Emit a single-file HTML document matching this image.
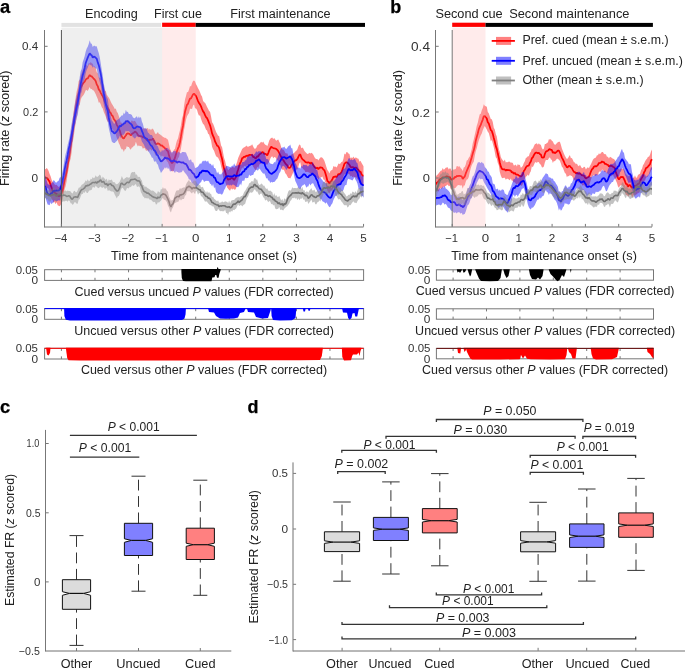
<!DOCTYPE html>
<html><head><meta charset="utf-8"><style>
html,body{margin:0;padding:0;background:#fff;width:685px;height:668px;overflow:hidden}
svg{display:block;will-change:transform}
text{font-family:"Liberation Sans", sans-serif}
</style></head><body>
<svg width="685" height="668" viewBox="0 0 685 668" font-family='"Liberation Sans", sans-serif'>
<rect width="685" height="668" fill="#fff"/>
<rect x="61.42" y="22.90" width="99.71" height="4.00" fill="#e2e2e2"/>
<rect x="162.13" y="22.70" width="33.57" height="4.20" fill="#ff0000"/>
<rect x="195.70" y="22.90" width="169.30" height="4.00" fill="#000"/>
<polygon points="44.60,168.86 45.60,169.18 46.61,167.95 47.61,169.12 48.61,171.12 49.61,174.01 50.62,176.36 51.62,179.63 52.62,181.72 53.63,182.68 54.63,184.53 55.63,184.89 56.63,184.71 57.64,186.09 58.64,187.06 59.64,186.30 60.65,185.69 61.65,183.28 62.65,181.11 63.65,176.57 64.66,171.64 65.66,168.40 66.66,163.58 67.67,157.85 68.67,152.58 69.67,144.46 70.67,134.92 71.68,126.93 72.68,119.22 73.68,111.24 74.68,104.46 75.69,97.59 76.69,91.34 77.69,87.51 78.70,81.01 79.70,79.68 80.70,75.99 81.70,73.02 82.71,70.32 83.71,68.75 84.71,69.53 85.72,66.14 86.72,64.64 87.72,66.28 88.72,62.95 89.73,63.45 90.73,62.12 91.73,63.25 92.74,63.83 93.74,66.67 94.74,66.36 95.74,68.40 96.75,72.16 97.75,73.19 98.75,76.82 99.76,77.94 100.76,78.18 101.76,80.17 102.76,82.91 103.77,85.97 104.77,90.53 105.77,90.99 106.78,94.58 107.78,96.16 108.78,97.43 109.78,99.13 110.79,101.70 111.79,103.83 112.79,105.37 113.80,106.90 114.80,108.94 115.80,108.47 116.80,111.71 117.81,112.94 118.81,115.96 119.81,119.44 120.82,122.96 121.82,122.61 122.82,124.90 123.82,123.97 124.83,123.01 125.83,121.91 126.83,120.21 127.83,119.85 128.84,121.97 129.84,122.69 130.84,121.80 131.85,120.18 132.85,121.13 133.85,121.25 134.85,120.76 135.86,122.28 136.86,124.23 137.86,125.15 138.87,126.46 139.87,126.94 140.87,126.16 141.87,128.48 142.88,128.81 143.88,128.21 144.88,128.38 145.89,128.99 146.89,128.39 147.89,127.91 148.89,129.88 149.90,128.43 150.90,130.32 151.90,128.84 152.91,128.69 153.91,130.56 154.91,132.98 155.91,134.33 156.92,133.30 157.92,131.96 158.92,134.08 159.93,134.29 160.93,135.35 161.93,135.83 162.93,137.05 163.94,137.30 164.94,137.99 165.94,137.82 166.95,139.16 167.95,139.58 168.95,143.96 169.95,148.65 170.96,150.83 171.96,153.93 172.96,151.81 173.97,149.75 174.97,148.86 175.97,144.07 176.97,140.46 177.98,138.49 178.98,133.96 179.98,130.22 180.98,124.74 181.99,118.35 182.99,115.14 183.99,105.99 185.00,99.57 186.00,95.88 187.00,91.91 188.00,92.37 189.01,89.48 190.01,85.90 191.01,86.55 192.02,83.32 193.02,80.98 194.02,80.47 195.02,81.39 196.03,84.22 197.03,85.96 198.03,88.24 199.04,90.02 200.04,92.26 201.04,95.11 202.04,96.60 203.05,100.74 204.05,102.36 205.05,102.78 206.06,104.84 207.06,107.01 208.06,108.79 209.06,111.00 210.07,111.87 211.07,116.47 212.07,122.31 213.08,123.84 214.08,126.26 215.08,129.27 216.08,132.10 217.09,133.85 218.09,135.83 219.09,136.00 220.10,140.79 221.10,145.40 222.10,147.28 223.10,152.84 224.11,157.91 225.11,160.89 226.11,165.42 227.12,167.54 228.12,170.27 229.12,169.28 230.12,167.90 231.13,168.11 232.13,167.06 233.13,166.69 234.13,168.03 235.14,166.76 236.14,164.63 237.14,161.80 238.15,158.10 239.15,155.85 240.15,153.56 241.15,151.22 242.16,149.09 243.16,148.06 244.16,147.33 245.17,146.94 246.17,145.46 247.17,146.50 248.17,146.69 249.18,146.34 250.18,145.85 251.18,145.46 252.19,144.15 253.19,146.55 254.19,148.44 255.19,148.72 256.20,148.08 257.20,145.59 258.20,144.70 259.21,144.06 260.21,142.71 261.21,141.86 262.21,142.69 263.22,141.44 264.22,143.47 265.22,144.67 266.23,145.10 267.23,146.32 268.23,143.73 269.23,140.47 270.24,138.81 271.24,137.93 272.24,137.45 273.25,138.89 274.25,137.99 275.25,139.43 276.25,140.81 277.26,139.96 278.26,139.59 279.26,141.71 280.27,143.77 281.27,147.45 282.27,149.53 283.27,149.61 284.28,150.86 285.28,153.00 286.28,153.47 287.28,153.19 288.29,155.73 289.29,156.47 290.29,157.43 291.30,154.39 292.30,154.35 293.30,153.51 294.30,152.80 295.31,151.62 296.31,150.80 297.31,149.42 298.32,146.48 299.32,144.41 300.32,144.97 301.32,148.24 302.33,147.54 303.33,148.40 304.33,150.81 305.34,151.92 306.34,152.95 307.34,154.07 308.34,153.67 309.35,152.69 310.35,153.38 311.35,152.74 312.36,153.41 313.36,154.84 314.36,156.95 315.36,158.53 316.37,159.04 317.37,159.05 318.37,160.40 319.38,158.79 320.38,157.48 321.38,157.36 322.38,157.65 323.39,159.02 324.39,160.77 325.39,163.86 326.40,167.01 327.40,170.05 328.40,171.21 329.40,173.52 330.41,170.89 331.41,170.37 332.41,169.76 333.42,166.04 334.42,166.73 335.42,166.56 336.42,167.43 337.43,166.02 338.43,163.43 339.43,164.06 340.43,163.49 341.44,162.08 342.44,161.68 343.44,158.72 344.45,153.58 345.45,154.50 346.45,152.12 347.45,152.16 348.46,153.56 349.46,154.12 350.46,158.13 351.47,157.53 352.47,157.91 353.47,156.56 354.47,158.26 355.48,157.49 356.48,157.79 357.48,158.49 358.49,158.71 359.49,161.86 360.49,160.77 361.49,162.74 362.50,164.47 363.50,166.14 363.50,184.89 362.50,185.47 361.49,184.99 360.49,182.85 359.49,183.04 358.49,179.70 357.48,179.34 356.48,177.55 355.48,177.21 354.47,177.31 353.47,176.60 352.47,177.26 351.47,175.64 350.46,176.45 349.46,174.31 348.46,174.01 347.45,172.37 346.45,173.46 345.45,174.05 344.45,174.53 343.44,176.47 342.44,179.97 341.44,183.20 340.43,182.61 339.43,183.66 338.43,184.58 337.43,184.79 336.42,187.13 335.42,185.80 334.42,187.44 333.42,187.73 332.41,189.83 331.41,190.47 330.41,190.83 329.40,193.58 328.40,192.15 327.40,190.78 326.40,186.95 325.39,182.53 324.39,179.70 323.39,179.40 322.38,176.61 321.38,177.22 320.38,177.52 319.38,178.12 318.37,179.69 317.37,178.01 316.37,176.99 315.36,176.74 314.36,175.45 313.36,175.14 312.36,174.18 311.35,172.81 310.35,174.07 309.35,172.41 308.34,172.24 307.34,171.66 306.34,171.96 305.34,172.09 304.33,169.88 303.33,169.15 302.33,167.78 301.32,167.50 300.32,162.29 299.32,163.34 298.32,166.63 297.31,169.56 296.31,169.41 295.31,170.72 294.30,170.62 293.30,171.95 292.30,174.48 291.30,176.48 290.29,178.47 289.29,177.96 288.29,178.01 287.28,176.24 286.28,174.13 285.28,173.33 284.28,170.38 283.27,169.38 282.27,169.83 281.27,168.18 280.27,164.80 279.26,164.69 278.26,161.36 277.26,160.00 276.25,158.74 275.25,157.17 274.25,157.01 273.25,158.30 272.24,156.32 271.24,157.04 270.24,158.86 269.23,161.90 268.23,163.01 267.23,164.78 266.23,164.27 265.22,164.65 264.22,162.88 263.22,163.23 262.21,161.53 261.21,163.96 260.21,163.84 259.21,164.82 258.20,168.26 257.20,166.54 256.20,169.89 255.19,169.73 254.19,168.33 253.19,166.84 252.19,164.69 251.18,163.59 250.18,163.04 249.18,165.46 248.17,165.35 247.17,165.89 246.17,165.39 245.17,166.74 244.16,165.86 243.16,168.99 242.16,167.19 241.15,170.09 240.15,172.57 239.15,174.70 238.15,180.77 237.14,183.93 236.14,188.32 235.14,189.78 234.13,189.45 233.13,188.39 232.13,189.82 231.13,188.20 230.12,190.77 229.12,189.88 228.12,188.79 227.12,187.49 226.11,184.50 225.11,180.96 224.11,180.89 223.10,176.85 222.10,170.38 221.10,166.41 220.10,161.64 219.09,159.77 218.09,157.76 217.09,157.04 216.08,156.15 215.08,153.64 214.08,150.69 213.08,149.32 212.07,146.63 211.07,140.47 210.07,137.65 209.06,134.52 208.06,133.80 207.06,130.62 206.06,129.79 205.05,127.37 204.05,124.78 203.05,124.09 202.04,121.85 201.04,118.95 200.04,115.31 199.04,115.76 198.03,113.43 197.03,109.98 196.03,108.56 195.02,108.31 194.02,104.61 193.02,105.58 192.02,108.97 191.01,108.77 190.01,108.77 189.01,112.95 188.00,114.48 187.00,116.13 186.00,119.83 185.00,124.90 183.99,130.20 182.99,136.89 181.99,141.76 180.98,148.53 179.98,152.78 178.98,157.05 177.98,158.25 176.97,161.79 175.97,162.87 174.97,166.26 173.97,170.54 172.96,171.53 171.96,171.29 170.96,170.48 169.95,168.04 168.95,165.04 167.95,162.25 166.95,161.28 165.94,159.32 164.94,158.27 163.94,156.58 162.93,156.38 161.93,155.43 160.93,156.97 159.93,154.43 158.92,155.20 157.92,153.61 156.92,154.70 155.91,156.06 154.91,153.66 153.91,152.07 152.91,148.83 151.90,150.73 150.90,149.73 149.90,148.63 148.89,151.73 147.89,150.12 146.89,150.79 145.89,150.39 144.88,148.20 143.88,148.00 142.88,148.80 141.87,146.62 140.87,145.96 139.87,146.32 138.87,145.29 137.86,146.42 136.86,144.58 135.86,141.74 134.85,145.57 133.85,145.79 132.85,147.19 131.85,147.51 130.84,149.66 129.84,148.86 128.84,147.06 127.83,147.00 126.83,145.95 125.83,149.36 124.83,149.23 123.82,152.02 122.82,149.22 121.82,149.55 120.82,148.09 119.81,145.04 118.81,143.15 117.81,140.13 116.80,137.65 115.80,134.87 114.80,132.41 113.80,131.54 112.79,129.09 111.79,128.50 110.79,126.76 109.78,125.39 108.78,121.83 107.78,122.05 106.78,119.89 105.77,116.69 104.77,114.27 103.77,112.02 102.76,108.43 101.76,107.34 100.76,104.56 99.76,102.32 98.75,102.64 97.75,98.89 96.75,96.68 95.74,94.17 94.74,92.13 93.74,90.46 92.74,90.28 91.73,89.01 90.73,89.13 89.73,86.92 88.72,89.08 87.72,90.91 86.72,90.05 85.72,90.23 84.71,92.82 83.71,94.64 82.71,96.01 81.70,97.28 80.70,99.66 79.70,105.05 78.70,106.28 77.69,111.24 76.69,117.07 75.69,122.94 74.68,129.49 73.68,137.04 72.68,142.77 71.68,152.02 70.67,158.84 69.67,161.73 68.67,168.71 67.67,174.08 66.66,181.32 65.66,186.03 64.66,189.32 63.65,194.68 62.65,199.27 61.65,202.47 60.65,204.99 59.64,206.17 58.64,205.64 57.64,205.30 56.63,202.37 55.63,204.22 54.63,201.96 53.63,202.87 52.62,199.88 51.62,198.64 50.62,196.34 49.61,192.01 48.61,188.64 47.61,187.91 46.61,187.44 45.60,186.07 44.60,187.07" fill="#ff0000" fill-opacity="0.45"/>
<polyline points="44.60,178.32 45.60,177.56 46.61,177.98 47.61,178.67 48.61,180.20 49.61,181.64 50.62,185.08 51.62,187.73 52.62,190.97 53.63,191.73 54.63,192.68 55.63,193.78 56.63,193.57 57.64,195.45 58.64,196.15 59.64,195.91 60.65,195.18 61.65,193.13 62.65,190.61 63.65,185.33 64.66,179.99 65.66,176.32 66.66,171.54 67.67,165.20 68.67,159.93 69.67,153.72 70.67,145.73 71.68,138.85 72.68,131.18 73.68,123.94 74.68,116.90 75.69,110.40 76.69,104.25 77.69,98.93 78.70,93.74 79.70,91.76 80.70,87.89 81.70,85.78 82.71,84.06 83.71,82.58 84.71,81.65 85.72,79.62 86.72,78.72 87.72,78.47 88.72,76.63 89.73,75.04 90.73,76.06 91.73,76.44 92.74,77.55 93.74,78.76 94.74,79.59 95.74,81.26 96.75,84.54 97.75,86.12 98.75,89.37 99.76,90.64 100.76,92.78 101.76,94.72 102.76,96.21 103.77,98.69 104.77,101.62 105.77,104.06 106.78,105.98 107.78,108.33 108.78,109.73 109.78,112.10 110.79,113.15 111.79,115.27 112.79,116.23 113.80,118.90 114.80,120.27 115.80,121.70 116.80,124.82 117.81,126.59 118.81,129.07 119.81,130.68 120.82,134.44 121.82,136.47 122.82,137.93 123.82,138.56 124.83,136.76 125.83,135.48 126.83,133.81 127.83,133.43 128.84,133.57 129.84,134.24 130.84,135.52 131.85,133.98 132.85,133.32 133.85,132.78 134.85,131.60 135.86,132.14 136.86,133.15 137.86,135.03 138.87,135.82 139.87,136.23 140.87,136.04 141.87,136.44 142.88,137.54 143.88,137.10 144.88,137.55 145.89,138.65 146.89,140.23 147.89,139.44 148.89,140.74 149.90,139.55 150.90,139.99 151.90,139.77 152.91,138.41 153.91,140.50 154.91,142.82 155.91,144.27 156.92,143.86 157.92,143.33 158.92,143.72 159.93,144.47 160.93,145.72 161.93,145.21 162.93,146.48 163.94,147.21 164.94,148.32 165.94,148.75 166.95,150.61 167.95,151.23 168.95,155.39 169.95,158.24 170.96,161.46 171.96,163.26 172.96,162.20 173.97,160.37 174.97,157.65 175.97,154.27 176.97,151.30 177.98,148.43 178.98,146.28 179.98,142.26 180.98,136.45 181.99,130.34 182.99,125.95 183.99,118.20 185.00,111.79 186.00,108.21 187.00,104.78 188.00,103.81 189.01,101.03 190.01,98.59 191.01,98.39 192.02,96.29 193.02,94.42 194.02,93.67 195.02,94.84 196.03,96.00 197.03,98.45 198.03,101.06 199.04,102.97 200.04,104.38 201.04,106.40 202.04,109.01 203.05,111.36 204.05,112.63 205.05,115.13 206.06,117.05 207.06,118.11 208.06,120.33 209.06,122.91 210.07,125.34 211.07,129.02 212.07,133.35 213.08,135.89 214.08,138.17 215.08,141.51 216.08,143.32 217.09,145.70 218.09,146.08 219.09,147.89 220.10,151.29 221.10,155.42 222.10,159.03 223.10,164.49 224.11,168.85 225.11,171.42 226.11,175.01 227.12,177.77 228.12,179.75 229.12,179.03 230.12,179.30 231.13,178.03 232.13,178.11 233.13,178.62 234.13,179.95 235.14,178.36 236.14,176.79 237.14,172.49 238.15,169.46 239.15,165.95 240.15,163.16 241.15,161.31 242.16,158.16 243.16,157.69 244.16,156.63 245.17,157.05 246.17,155.82 247.17,155.68 248.17,155.90 249.18,154.98 250.18,154.91 251.18,155.00 252.19,154.93 253.19,157.05 254.19,156.89 255.19,158.33 256.20,157.93 257.20,156.34 258.20,156.53 259.21,154.65 260.21,153.85 261.21,153.18 262.21,152.23 263.22,152.43 264.22,153.96 265.22,153.85 266.23,154.23 267.23,155.42 268.23,153.08 269.23,150.43 270.24,148.45 271.24,146.75 272.24,147.40 273.25,148.11 274.25,148.29 275.25,148.51 276.25,149.00 277.26,149.88 278.26,151.16 279.26,153.20 280.27,155.05 281.27,157.10 282.27,159.53 283.27,159.96 284.28,161.76 285.28,163.33 286.28,164.50 287.28,165.36 288.29,167.56 289.29,167.98 290.29,167.54 291.30,165.23 292.30,164.51 293.30,162.05 294.30,161.64 295.31,160.12 296.31,160.34 297.31,159.04 298.32,156.99 299.32,154.80 300.32,154.43 301.32,157.61 302.33,159.02 303.33,159.96 304.33,160.69 305.34,162.09 306.34,162.31 307.34,162.78 308.34,162.21 309.35,162.78 310.35,163.68 311.35,162.39 312.36,163.92 313.36,165.34 314.36,166.82 315.36,167.83 316.37,168.18 317.37,167.64 318.37,169.19 319.38,167.74 320.38,167.33 321.38,167.53 322.38,167.82 323.39,169.62 324.39,170.25 325.39,173.26 326.40,176.78 327.40,180.92 328.40,181.89 329.40,183.52 330.41,181.82 331.41,180.96 332.41,179.19 333.42,176.85 334.42,176.92 335.42,176.29 336.42,177.22 337.43,175.65 338.43,173.94 339.43,174.36 340.43,173.36 341.44,172.22 342.44,169.58 343.44,166.80 344.45,163.65 345.45,162.85 346.45,162.24 347.45,162.75 348.46,163.72 349.46,164.80 350.46,166.76 351.47,167.41 352.47,166.99 353.47,167.34 354.47,167.98 355.48,167.72 356.48,167.70 357.48,169.38 358.49,169.87 359.49,171.68 360.49,171.67 361.49,174.13 362.50,175.62 363.50,175.71" fill="none" stroke="#ff0000" stroke-width="1.75" stroke-linejoin="bevel"/>
<polygon points="44.60,174.25 45.60,176.66 46.61,180.54 47.61,183.87 48.61,184.40 49.61,185.13 50.62,184.44 51.62,182.97 52.62,182.22 53.63,180.11 54.63,180.91 55.63,182.43 56.63,182.54 57.64,181.36 58.64,180.87 59.64,177.79 60.65,177.29 61.65,174.99 62.65,171.07 63.65,165.23 64.66,158.78 65.66,153.78 66.66,150.47 67.67,144.71 68.67,141.06 69.67,136.12 70.67,129.66 71.68,123.21 72.68,118.60 73.68,112.86 74.68,105.95 75.69,100.21 76.69,95.65 77.69,92.14 78.70,86.31 79.70,77.12 80.70,71.36 81.70,68.65 82.71,61.95 83.71,59.35 84.71,56.07 85.72,51.60 86.72,48.38 87.72,46.77 88.72,44.01 89.73,40.23 90.73,43.58 91.73,43.77 92.74,46.95 93.74,45.65 94.74,45.63 95.74,46.42 96.75,46.20 97.75,50.05 98.75,52.92 99.76,57.22 100.76,63.43 101.76,69.92 102.76,75.69 103.77,83.47 104.77,88.82 105.77,93.91 106.78,97.36 107.78,99.01 108.78,106.50 109.78,110.52 110.79,116.87 111.79,120.58 112.79,121.79 113.80,123.50 114.80,123.73 115.80,120.76 116.80,120.27 117.81,119.55 118.81,118.97 119.81,117.47 120.82,116.57 121.82,115.22 122.82,115.55 123.82,112.56 124.83,114.14 125.83,109.75 126.83,111.99 127.83,111.77 128.84,114.09 129.84,113.94 130.84,114.22 131.85,114.89 132.85,117.28 133.85,118.05 134.85,118.22 135.86,117.12 136.86,116.34 137.86,118.38 138.87,116.31 139.87,118.13 140.87,116.78 141.87,121.38 142.88,123.75 143.88,128.10 144.88,128.84 145.89,127.63 146.89,129.45 147.89,132.50 148.89,133.29 149.90,134.84 150.90,134.99 151.90,135.09 152.91,137.10 153.91,140.40 154.91,139.87 155.91,142.51 156.92,145.66 157.92,146.20 158.92,149.41 159.93,150.90 160.93,152.57 161.93,150.09 162.93,150.80 163.94,149.88 164.94,148.74 165.94,148.58 166.95,147.70 167.95,148.15 168.95,149.38 169.95,149.97 170.96,152.24 171.96,152.54 172.96,151.51 173.97,151.07 174.97,151.20 175.97,150.96 176.97,153.84 177.98,151.39 178.98,152.20 179.98,152.81 180.98,153.43 181.99,152.04 182.99,151.88 183.99,151.91 185.00,152.26 186.00,152.60 187.00,155.22 188.00,157.30 189.01,160.49 190.01,160.12 191.01,159.33 192.02,162.53 193.02,162.06 194.02,164.27 195.02,168.11 196.03,167.83 197.03,167.24 198.03,166.46 199.04,164.97 200.04,163.34 201.04,163.98 202.04,162.10 203.05,160.40 204.05,161.53 205.05,160.13 206.06,161.16 207.06,161.71 208.06,160.40 209.06,163.45 210.07,163.58 211.07,164.28 212.07,165.88 213.08,164.09 214.08,168.07 215.08,167.96 216.08,170.03 217.09,173.56 218.09,171.58 219.09,174.22 220.10,174.14 221.10,174.60 222.10,172.94 223.10,171.69 224.11,168.81 225.11,168.53 226.11,165.83 227.12,165.95 228.12,166.23 229.12,166.75 230.12,167.10 231.13,166.75 232.13,165.47 233.13,165.88 234.13,163.15 235.14,165.52 236.14,166.11 237.14,165.73 238.15,164.65 239.15,165.10 240.15,164.61 241.15,164.98 242.16,162.30 243.16,162.00 244.16,161.98 245.17,160.35 246.17,160.14 247.17,156.88 248.17,156.97 249.18,155.52 250.18,156.66 251.18,154.43 252.19,153.46 253.19,155.16 254.19,154.13 255.19,153.19 256.20,151.04 257.20,152.54 258.20,151.19 259.21,151.47 260.21,150.92 261.21,152.34 262.21,153.28 263.22,153.39 264.22,151.48 265.22,155.16 266.23,159.03 267.23,159.30 268.23,159.29 269.23,161.90 270.24,163.56 271.24,163.87 272.24,164.18 273.25,163.63 274.25,162.05 275.25,162.57 276.25,159.24 277.26,158.44 278.26,155.56 279.26,152.88 280.27,149.89 281.27,147.95 282.27,147.47 283.27,147.51 284.28,146.45 285.28,148.22 286.28,148.94 287.28,147.82 288.29,146.20 289.29,145.78 290.29,144.51 291.30,148.14 292.30,148.33 293.30,153.89 294.30,157.45 295.31,163.01 296.31,164.42 297.31,167.74 298.32,167.45 299.32,167.83 300.32,168.73 301.32,165.99 302.33,166.65 303.33,164.60 304.33,164.94 305.34,165.36 306.34,164.66 307.34,166.20 308.34,166.26 309.35,164.72 310.35,163.78 311.35,165.13 312.36,162.09 313.36,162.99 314.36,165.82 315.36,165.91 316.37,169.63 317.37,170.15 318.37,175.29 319.38,177.63 320.38,177.50 321.38,179.10 322.38,180.11 323.39,182.03 324.39,181.51 325.39,183.41 326.40,183.07 327.40,185.66 328.40,186.31 329.40,187.02 330.41,187.93 331.41,188.15 332.41,184.16 333.42,181.86 334.42,180.44 335.42,179.30 336.42,177.37 337.43,176.12 338.43,174.29 339.43,174.77 340.43,173.29 341.44,172.29 342.44,169.97 343.44,168.99 344.45,168.84 345.45,167.87 346.45,163.73 347.45,161.26 348.46,158.62 349.46,157.95 350.46,160.21 351.47,159.33 352.47,160.35 353.47,159.77 354.47,158.76 355.48,159.94 356.48,162.54 357.48,163.35 358.49,167.92 359.49,171.17 360.49,172.66 361.49,176.26 362.50,176.16 363.50,175.74 363.50,197.66 362.50,195.92 361.49,196.22 360.49,193.69 359.49,189.13 358.49,188.24 357.48,183.66 356.48,181.20 355.48,179.65 354.47,177.03 353.47,178.93 352.47,180.57 351.47,180.03 350.46,179.45 349.46,179.19 348.46,178.86 347.45,179.92 346.45,184.98 345.45,184.88 344.45,186.46 343.44,190.06 342.44,191.23 341.44,190.84 340.43,192.71 339.43,191.81 338.43,195.22 337.43,194.03 336.42,196.07 335.42,195.94 334.42,198.11 333.42,200.09 332.41,203.18 331.41,204.61 330.41,206.54 329.40,207.27 328.40,205.80 327.40,204.05 326.40,202.17 325.39,203.73 324.39,202.14 323.39,201.76 322.38,201.18 321.38,199.18 320.38,199.03 319.38,196.94 318.37,193.19 317.37,191.19 316.37,189.58 315.36,187.44 314.36,185.98 313.36,183.49 312.36,183.13 311.35,183.91 310.35,185.54 309.35,183.45 308.34,186.40 307.34,186.60 306.34,187.66 305.34,185.20 304.33,184.00 303.33,185.31 302.33,185.51 301.32,186.95 300.32,189.16 299.32,188.80 298.32,187.67 297.31,185.35 296.31,183.00 295.31,180.97 294.30,176.49 293.30,171.28 292.30,168.75 291.30,166.84 290.29,164.27 289.29,165.35 288.29,166.50 287.28,168.70 286.28,169.94 285.28,168.11 284.28,166.48 283.27,165.85 282.27,166.39 281.27,169.31 280.27,172.00 279.26,173.19 278.26,176.14 277.26,178.65 276.25,179.43 275.25,180.90 274.25,181.88 273.25,181.88 272.24,182.42 271.24,181.74 270.24,182.88 269.23,180.47 268.23,180.62 267.23,177.97 266.23,178.38 265.22,175.20 264.22,173.20 263.22,173.78 262.21,172.51 261.21,171.34 260.21,169.55 259.21,168.57 258.20,170.28 257.20,170.56 256.20,169.42 255.19,171.47 254.19,172.22 253.19,175.08 252.19,174.96 251.18,175.54 250.18,176.02 249.18,174.60 248.17,178.07 247.17,178.04 246.17,178.31 245.17,177.73 244.16,181.01 243.16,180.53 242.16,180.92 241.15,185.50 240.15,183.57 239.15,185.93 238.15,187.16 237.14,187.06 236.14,186.91 235.14,185.75 234.13,185.07 233.13,184.42 232.13,184.82 231.13,185.75 230.12,184.52 229.12,185.64 228.12,184.41 227.12,185.03 226.11,185.90 225.11,188.58 224.11,190.00 223.10,192.91 222.10,194.54 221.10,194.49 220.10,193.62 219.09,194.10 218.09,193.80 217.09,193.03 216.08,191.98 215.08,186.88 214.08,188.27 213.08,184.09 212.07,186.45 211.07,184.19 210.07,183.72 209.06,181.41 208.06,180.74 207.06,181.03 206.06,180.79 205.05,181.14 204.05,182.05 203.05,179.87 202.04,179.86 201.04,182.27 200.04,182.64 199.04,184.50 198.03,185.62 197.03,186.53 196.03,188.32 195.02,184.90 194.02,184.95 193.02,183.11 192.02,183.60 191.01,181.05 190.01,179.29 189.01,179.66 188.00,177.01 187.00,175.49 186.00,174.01 185.00,173.06 183.99,171.52 182.99,170.05 181.99,171.78 180.98,172.44 179.98,172.14 178.98,173.05 177.98,172.05 176.97,172.04 175.97,170.90 174.97,172.98 173.97,171.44 172.96,170.49 171.96,170.94 170.96,171.28 169.95,171.45 168.95,168.02 167.95,169.24 166.95,167.10 165.94,168.76 164.94,167.14 163.94,169.12 162.93,170.34 161.93,171.82 160.93,172.89 159.93,170.36 158.92,168.60 157.92,164.75 156.92,163.78 155.91,161.03 154.91,162.04 153.91,161.10 152.91,157.67 151.90,157.64 150.90,155.49 149.90,153.84 148.89,152.05 147.89,151.06 146.89,149.37 145.89,148.43 144.88,147.09 143.88,144.43 142.88,143.05 141.87,141.47 140.87,138.33 139.87,137.12 138.87,137.26 137.86,137.07 136.86,135.94 135.86,137.43 134.85,138.66 133.85,137.60 132.85,137.34 131.85,134.35 130.84,134.75 129.84,132.11 128.84,131.15 127.83,130.99 126.83,131.55 125.83,130.48 124.83,132.96 123.82,134.60 122.82,135.29 121.82,134.47 120.82,138.13 119.81,135.73 118.81,138.17 117.81,139.36 116.80,140.91 115.80,141.68 114.80,143.11 113.80,143.03 112.79,142.45 111.79,141.51 110.79,137.22 109.78,132.50 108.78,128.32 107.78,121.83 106.78,119.23 105.77,113.72 104.77,109.23 103.77,104.80 102.76,97.72 101.76,91.93 100.76,85.69 99.76,81.97 98.75,77.68 97.75,74.08 96.75,68.53 95.74,68.78 94.74,67.56 93.74,66.44 92.74,67.83 91.73,65.42 90.73,65.36 89.73,64.36 88.72,64.89 87.72,67.77 86.72,69.78 85.72,72.96 84.71,78.86 83.71,81.31 82.71,85.89 81.70,91.39 80.70,94.56 79.70,100.41 78.70,108.15 77.69,115.05 76.69,117.70 75.69,123.08 74.68,125.74 73.68,132.98 72.68,140.46 71.68,144.63 70.67,150.31 69.67,156.31 68.67,158.88 67.67,165.17 66.66,170.11 65.66,174.48 64.66,178.09 63.65,183.94 62.65,189.53 61.65,193.10 60.65,197.00 59.64,200.64 58.64,200.26 57.64,200.67 56.63,201.37 55.63,200.70 54.63,200.13 53.63,202.18 52.62,202.74 51.62,204.20 50.62,202.34 49.61,205.30 48.61,204.83 47.61,204.61 46.61,201.38 45.60,198.12 44.60,197.05" fill="#0000ff" fill-opacity="0.45"/>
<polyline points="44.60,186.12 45.60,187.31 46.61,191.61 47.61,193.66 48.61,194.66 49.61,195.35 50.62,193.41 51.62,193.74 52.62,191.89 53.63,191.04 54.63,190.60 55.63,190.78 56.63,190.64 57.64,190.63 58.64,190.36 59.64,189.84 60.65,187.97 61.65,184.23 62.65,180.18 63.65,175.23 64.66,169.47 65.66,164.35 66.66,160.42 67.67,155.01 68.67,148.96 69.67,145.27 70.67,139.65 71.68,134.59 72.68,129.50 73.68,123.40 74.68,116.99 75.69,112.00 76.69,107.37 77.69,102.97 78.70,96.81 79.70,89.84 80.70,83.85 81.70,79.61 82.71,75.12 83.71,72.12 84.71,67.77 85.72,63.02 86.72,60.22 87.72,57.59 88.72,55.22 89.73,53.40 90.73,54.66 91.73,55.24 92.74,57.74 93.74,56.66 94.74,56.88 95.74,57.72 96.75,58.81 97.75,62.43 98.75,65.07 99.76,69.32 100.76,73.97 101.76,80.18 102.76,86.78 103.77,93.41 104.77,98.15 105.77,103.72 106.78,108.04 107.78,110.79 108.78,117.72 109.78,122.84 110.79,127.30 111.79,131.27 112.79,131.64 113.80,132.89 114.80,133.45 115.80,132.29 116.80,131.36 117.81,129.79 118.81,127.51 119.81,125.78 120.82,126.49 121.82,124.83 122.82,124.56 123.82,123.43 124.83,123.38 125.83,121.20 126.83,121.48 127.83,121.06 128.84,121.98 129.84,123.30 130.84,123.78 131.85,124.81 132.85,127.31 133.85,128.33 134.85,128.21 135.86,127.47 136.86,126.56 137.86,126.58 138.87,126.90 139.87,127.07 140.87,127.87 141.87,130.93 142.88,133.05 143.88,136.54 144.88,137.80 145.89,138.47 146.89,138.56 147.89,140.88 148.89,141.88 149.90,143.85 150.90,145.53 151.90,146.09 152.91,147.96 153.91,150.05 154.91,150.81 155.91,152.41 156.92,154.80 157.92,155.49 158.92,158.01 159.93,159.54 160.93,161.60 161.93,161.04 162.93,160.05 163.94,159.19 164.94,157.33 165.94,158.55 166.95,157.99 167.95,158.69 168.95,158.94 169.95,160.20 170.96,160.98 171.96,161.56 172.96,160.85 173.97,160.32 174.97,161.37 175.97,161.36 176.97,162.74 177.98,161.87 178.98,161.65 179.98,162.03 180.98,162.45 181.99,162.71 182.99,162.23 183.99,163.17 185.00,163.83 186.00,163.83 187.00,165.50 188.00,167.50 189.01,169.94 190.01,169.63 191.01,170.56 192.02,172.24 193.02,173.27 194.02,174.04 195.02,176.62 196.03,177.96 197.03,176.97 198.03,176.41 199.04,174.85 200.04,172.35 201.04,172.81 202.04,170.79 203.05,170.53 204.05,171.21 205.05,170.79 206.06,171.42 207.06,170.81 208.06,171.69 209.06,172.57 210.07,174.12 211.07,174.74 212.07,175.41 213.08,175.07 214.08,177.58 215.08,177.76 216.08,180.77 217.09,182.23 218.09,182.43 219.09,183.39 220.10,184.39 221.10,183.49 222.10,183.75 223.10,182.76 224.11,179.83 225.11,178.57 226.11,176.70 227.12,176.39 228.12,176.03 229.12,176.59 230.12,176.25 231.13,176.79 232.13,176.45 233.13,176.33 234.13,174.89 235.14,175.59 236.14,176.42 237.14,175.65 238.15,175.59 239.15,175.70 240.15,174.27 241.15,174.86 242.16,172.67 243.16,171.60 244.16,171.50 245.17,168.93 246.17,169.06 247.17,166.95 248.17,166.92 249.18,165.01 250.18,164.92 251.18,163.97 252.19,164.12 253.19,164.00 254.19,163.16 255.19,162.45 256.20,160.71 257.20,160.71 258.20,159.81 259.21,159.39 260.21,160.85 261.21,162.15 262.21,162.29 263.22,162.97 264.22,162.58 265.22,166.00 266.23,168.54 267.23,169.34 268.23,170.57 269.23,172.32 270.24,173.11 271.24,173.79 272.24,173.70 273.25,172.55 274.25,172.11 275.25,171.17 276.25,170.04 277.26,168.32 278.26,165.08 279.26,162.62 280.27,160.74 281.27,159.37 282.27,157.45 283.27,157.28 284.28,157.10 285.28,157.73 286.28,158.68 287.28,157.96 288.29,157.46 289.29,156.93 290.29,156.06 291.30,157.97 292.30,159.79 293.30,163.11 294.30,167.21 295.31,172.37 296.31,174.80 297.31,177.24 298.32,177.79 299.32,178.36 300.32,177.76 301.32,177.08 302.33,175.94 303.33,174.47 304.33,174.26 305.34,174.97 306.34,176.40 307.34,177.25 308.34,177.12 309.35,175.33 310.35,175.38 311.35,174.64 312.36,173.29 313.36,174.49 314.36,175.42 315.36,176.63 316.37,179.18 317.37,180.76 318.37,184.10 319.38,186.88 320.38,189.03 321.38,190.49 322.38,191.69 323.39,192.04 324.39,192.20 325.39,192.90 326.40,194.12 327.40,195.52 328.40,196.83 329.40,197.41 330.41,197.95 331.41,196.82 332.41,194.11 333.42,191.31 334.42,190.21 335.42,187.77 336.42,186.83 337.43,184.80 338.43,184.98 339.43,183.96 340.43,184.45 341.44,181.98 342.44,180.90 343.44,179.74 344.45,177.44 345.45,175.95 346.45,174.39 347.45,171.51 348.46,169.14 349.46,169.20 350.46,170.62 351.47,169.81 352.47,170.51 353.47,168.99 354.47,168.41 355.48,170.26 356.48,171.12 357.48,172.70 358.49,176.74 359.49,179.53 360.49,182.66 361.49,184.45 362.50,184.68 363.50,185.76" fill="none" stroke="#0000ff" stroke-width="1.75" stroke-linejoin="bevel"/>
<polygon points="44.60,187.78 45.60,186.20 46.61,190.54 47.61,189.77 48.61,190.62 49.61,191.05 50.62,190.37 51.62,188.49 52.62,188.78 53.63,187.11 54.63,188.32 55.63,189.83 56.63,190.56 57.64,188.12 58.64,188.29 59.64,188.74 60.65,189.95 61.65,189.80 62.65,192.09 63.65,190.06 64.66,191.41 65.66,190.37 66.66,191.59 67.67,190.49 68.67,190.89 69.67,191.00 70.67,191.42 71.68,192.93 72.68,193.55 73.68,191.28 74.68,190.85 75.69,192.37 76.69,192.29 77.69,190.19 78.70,187.82 79.70,187.47 80.70,186.44 81.70,184.87 82.71,184.35 83.71,183.48 84.71,182.20 85.72,180.16 86.72,181.43 87.72,179.18 88.72,181.28 89.73,180.80 90.73,178.80 91.73,179.22 92.74,176.90 93.74,178.34 94.74,177.38 95.74,175.26 96.75,177.10 97.75,176.79 98.75,175.80 99.76,174.49 100.76,175.82 101.76,179.04 102.76,176.47 103.77,177.76 104.77,178.73 105.77,180.07 106.78,178.52 107.78,182.00 108.78,179.33 109.78,180.19 110.79,180.02 111.79,179.59 112.79,181.79 113.80,182.28 114.80,182.30 115.80,184.04 116.80,184.20 117.81,183.78 118.81,182.76 119.81,181.40 120.82,179.16 121.82,176.07 122.82,178.35 123.82,179.63 124.83,178.15 125.83,177.86 126.83,177.06 127.83,177.47 128.84,177.79 129.84,177.23 130.84,173.46 131.85,172.25 132.85,172.07 133.85,172.31 134.85,171.71 135.86,175.04 136.86,174.33 137.86,177.02 138.87,176.72 139.87,177.05 140.87,179.18 141.87,180.40 142.88,184.95 143.88,184.92 144.88,187.15 145.89,186.24 146.89,187.43 147.89,188.17 148.89,188.76 149.90,189.47 150.90,190.52 151.90,190.67 152.91,190.60 153.91,191.31 154.91,192.19 155.91,192.95 156.92,193.90 157.92,191.12 158.92,191.98 159.93,192.56 160.93,189.12 161.93,189.58 162.93,186.96 163.94,189.01 164.94,187.96 165.94,189.10 166.95,190.80 167.95,191.83 168.95,196.51 169.95,198.39 170.96,201.04 171.96,199.78 172.96,200.28 173.97,197.36 174.97,193.97 175.97,191.29 176.97,190.18 177.98,190.57 178.98,190.05 179.98,187.95 180.98,188.94 181.99,188.06 182.99,187.86 183.99,187.26 185.00,187.60 186.00,184.53 187.00,182.43 188.00,181.19 189.01,179.82 190.01,181.93 191.01,181.71 192.02,183.54 193.02,181.73 194.02,180.58 195.02,180.65 196.03,180.91 197.03,183.61 198.03,183.88 199.04,185.15 200.04,184.42 201.04,187.49 202.04,186.65 203.05,187.29 204.05,189.81 205.05,190.95 206.06,192.90 207.06,190.90 208.06,193.23 209.06,191.84 210.07,193.76 211.07,193.83 212.07,197.16 213.08,196.62 214.08,198.65 215.08,199.45 216.08,200.50 217.09,201.23 218.09,200.18 219.09,202.80 220.10,202.44 221.10,202.60 222.10,201.31 223.10,202.17 224.11,201.92 225.11,201.15 226.11,201.84 227.12,201.79 228.12,203.21 229.12,200.49 230.12,203.41 231.13,200.81 232.13,200.37 233.13,200.07 234.13,199.88 235.14,198.85 236.14,197.78 237.14,197.59 238.15,196.84 239.15,197.57 240.15,196.95 241.15,195.89 242.16,196.01 243.16,194.41 244.16,192.00 245.17,190.75 246.17,189.02 247.17,187.07 248.17,186.25 249.18,183.18 250.18,182.89 251.18,181.45 252.19,181.04 253.19,182.12 254.19,178.28 255.19,177.96 256.20,179.63 257.20,179.42 258.20,183.34 259.21,184.92 260.21,184.76 261.21,183.59 262.21,184.02 263.22,185.84 264.22,185.47 265.22,187.55 266.23,188.95 267.23,188.17 268.23,190.50 269.23,190.95 270.24,190.46 271.24,191.60 272.24,192.02 273.25,195.64 274.25,192.91 275.25,196.05 276.25,194.94 277.26,196.75 278.26,196.88 279.26,195.77 280.27,198.40 281.27,200.38 282.27,198.78 283.27,201.65 284.28,197.99 285.28,199.67 286.28,198.14 287.28,194.76 288.29,191.42 289.29,190.12 290.29,190.83 291.30,189.72 292.30,187.13 293.30,188.33 294.30,188.03 295.31,188.09 296.31,188.27 297.31,188.05 298.32,186.70 299.32,188.68 300.32,186.38 301.32,189.10 302.33,186.85 303.33,190.41 304.33,190.07 305.34,192.48 306.34,191.51 307.34,191.58 308.34,192.77 309.35,190.50 310.35,189.46 311.35,188.08 312.36,190.41 313.36,190.47 314.36,189.58 315.36,191.78 316.37,192.02 317.37,189.67 318.37,190.88 319.38,191.16 320.38,189.47 321.38,187.91 322.38,184.35 323.39,181.31 324.39,182.18 325.39,183.11 326.40,183.33 327.40,182.76 328.40,182.89 329.40,183.85 330.41,181.37 331.41,180.51 332.41,180.61 333.42,180.67 334.42,181.04 335.42,182.56 336.42,185.50 337.43,185.29 338.43,186.05 339.43,187.44 340.43,187.40 341.44,189.66 342.44,189.90 343.44,191.72 344.45,193.19 345.45,194.52 346.45,196.40 347.45,195.97 348.46,194.77 349.46,195.12 350.46,193.23 351.47,193.91 352.47,191.39 353.47,192.00 354.47,193.07 355.48,190.90 356.48,193.29 357.48,190.25 358.49,187.85 359.49,188.78 360.49,187.06 361.49,187.24 362.50,186.71 363.50,185.98 363.50,197.31 362.50,194.93 361.49,197.69 360.49,195.92 359.49,198.50 358.49,199.47 357.48,200.98 356.48,203.32 355.48,202.67 354.47,202.64 353.47,201.21 352.47,202.37 351.47,203.72 350.46,205.15 349.46,205.00 348.46,206.73 347.45,207.54 346.45,204.91 345.45,205.15 344.45,205.14 343.44,204.27 342.44,202.55 341.44,201.50 340.43,199.85 339.43,199.05 338.43,199.42 337.43,198.08 336.42,195.70 335.42,194.90 334.42,191.21 333.42,189.80 332.41,192.09 331.41,190.13 330.41,192.43 329.40,193.25 328.40,192.70 327.40,195.16 326.40,193.55 325.39,194.79 324.39,192.03 323.39,194.23 322.38,197.04 321.38,199.06 320.38,201.47 319.38,200.32 318.37,201.92 317.37,202.22 316.37,204.17 315.36,204.34 314.36,201.54 313.36,202.27 312.36,202.61 311.35,199.19 310.35,201.27 309.35,202.56 308.34,203.90 307.34,201.10 306.34,201.64 305.34,202.07 304.33,199.16 303.33,199.80 302.33,197.16 301.32,199.07 300.32,198.51 299.32,200.17 298.32,198.32 297.31,200.19 296.31,197.64 295.31,198.82 294.30,197.58 293.30,198.37 292.30,198.01 291.30,199.96 290.29,201.01 289.29,203.56 288.29,204.72 287.28,206.29 286.28,206.72 285.28,207.64 284.28,208.85 283.27,210.57 282.27,209.98 281.27,209.54 280.27,210.02 279.26,206.83 278.26,208.67 277.26,209.03 276.25,209.26 275.25,208.59 274.25,204.64 273.25,205.58 272.24,203.63 271.24,204.14 270.24,201.55 269.23,200.95 268.23,202.25 267.23,200.49 266.23,199.43 265.22,200.84 264.22,197.96 263.22,197.22 262.21,194.84 261.21,193.37 260.21,193.97 259.21,195.35 258.20,193.42 257.20,191.37 256.20,191.65 255.19,189.61 254.19,189.50 253.19,191.59 252.19,192.47 251.18,192.84 250.18,192.20 249.18,193.59 248.17,196.37 247.17,197.70 246.17,200.15 245.17,203.74 244.16,204.43 243.16,205.34 242.16,206.50 241.15,204.94 240.15,205.36 239.15,206.11 238.15,204.30 237.14,206.25 236.14,208.51 235.14,209.25 234.13,210.31 233.13,209.70 232.13,211.71 231.13,210.79 230.12,212.48 229.12,211.47 228.12,214.91 227.12,212.99 226.11,213.09 225.11,209.44 224.11,211.34 223.10,211.30 222.10,211.18 221.10,211.11 220.10,211.32 219.09,209.91 218.09,208.80 217.09,211.06 216.08,211.01 215.08,210.30 214.08,207.59 213.08,206.02 212.07,206.39 211.07,205.09 210.07,205.15 209.06,204.29 208.06,203.13 207.06,201.80 206.06,201.29 205.05,201.63 204.05,199.63 203.05,198.08 202.04,196.57 201.04,196.13 200.04,193.17 199.04,193.08 198.03,194.86 197.03,191.87 196.03,190.73 195.02,194.16 194.02,192.79 193.02,191.86 192.02,193.54 191.01,192.79 190.01,191.47 189.01,190.92 188.00,191.59 187.00,191.05 186.00,195.19 185.00,195.47 183.99,198.95 182.99,199.01 181.99,199.19 180.98,200.43 179.98,198.97 178.98,200.61 177.98,202.25 176.97,201.54 175.97,203.03 174.97,202.56 173.97,204.54 172.96,207.38 171.96,209.06 170.96,212.54 169.95,211.02 168.95,207.45 167.95,205.74 166.95,202.24 165.94,200.68 164.94,199.78 163.94,199.78 162.93,198.00 161.93,198.79 160.93,200.82 159.93,201.49 158.92,202.70 157.92,202.02 156.92,204.29 155.91,204.55 154.91,201.80 153.91,202.18 152.91,201.84 151.90,200.86 150.90,199.48 149.90,200.11 148.89,198.49 147.89,198.20 146.89,198.56 145.89,197.66 144.88,198.61 143.88,197.09 142.88,196.21 141.87,193.74 140.87,192.26 139.87,187.56 138.87,186.35 137.86,186.72 136.86,186.66 135.86,184.02 134.85,184.64 133.85,185.95 132.85,185.28 131.85,185.57 130.84,187.29 129.84,186.54 128.84,188.61 127.83,188.00 126.83,188.30 125.83,190.79 124.83,190.84 123.82,189.57 122.82,187.69 121.82,187.90 120.82,189.97 119.81,193.81 118.81,195.93 117.81,196.19 116.80,198.49 115.80,196.44 114.80,194.81 113.80,192.14 112.79,191.47 111.79,191.46 110.79,191.33 109.78,190.39 108.78,190.23 107.78,191.05 106.78,187.44 105.77,188.50 104.77,188.66 103.77,187.04 102.76,187.72 101.76,187.77 100.76,186.60 99.76,186.96 98.75,188.30 97.75,187.75 96.75,187.03 95.74,185.49 94.74,187.66 93.74,187.24 92.74,187.01 91.73,189.78 90.73,190.36 89.73,190.27 88.72,191.21 87.72,192.98 86.72,193.05 85.72,190.69 84.71,193.12 83.71,192.05 82.71,194.12 81.70,194.07 80.70,196.22 79.70,199.14 78.70,199.56 77.69,203.79 76.69,203.73 75.69,202.47 74.68,202.08 73.68,203.73 72.68,204.89 71.68,203.60 70.67,203.36 69.67,201.03 68.67,200.20 67.67,201.83 66.66,200.76 65.66,200.75 64.66,201.59 63.65,200.96 62.65,202.23 61.65,200.22 60.65,200.74 59.64,199.02 58.64,199.02 57.64,199.16 56.63,201.77 55.63,201.77 54.63,200.33 53.63,198.91 52.62,200.01 51.62,199.46 50.62,201.01 49.61,201.43 48.61,201.35 47.61,199.10 46.61,199.35 45.60,197.88 44.60,198.23" fill="#808080" fill-opacity="0.48"/>
<polyline points="44.60,193.55 45.60,192.85 46.61,194.56 47.61,194.23 48.61,195.45 49.61,195.44 50.62,196.05 51.62,194.72 52.62,195.02 53.63,194.46 54.63,194.06 55.63,195.78 56.63,196.13 57.64,194.23 58.64,194.82 59.64,194.26 60.65,194.42 61.65,195.15 62.65,195.70 63.65,194.98 64.66,195.19 65.66,195.53 66.66,196.37 67.67,196.17 68.67,195.84 69.67,195.98 70.67,197.84 71.68,199.12 72.68,198.88 73.68,197.34 74.68,196.94 75.69,196.80 76.69,196.93 77.69,197.41 78.70,194.90 79.70,192.84 80.70,190.85 81.70,189.46 82.71,189.49 83.71,188.53 84.71,187.86 85.72,185.74 86.72,185.98 87.72,185.27 88.72,185.45 89.73,184.46 90.73,184.11 91.73,183.12 92.74,182.57 93.74,182.53 94.74,182.70 95.74,181.98 96.75,183.21 97.75,181.61 98.75,181.93 99.76,180.51 100.76,180.04 101.76,182.18 102.76,181.72 103.77,181.61 104.77,183.74 105.77,184.44 106.78,183.57 107.78,185.95 108.78,184.22 109.78,184.03 110.79,183.83 111.79,185.54 112.79,185.60 113.80,186.53 114.80,188.60 115.80,189.66 116.80,191.06 117.81,191.02 118.81,189.76 119.81,187.39 120.82,183.94 121.82,183.05 122.82,184.11 123.82,184.71 124.83,184.64 125.83,183.50 126.83,182.58 127.83,182.13 128.84,182.75 129.84,181.46 130.84,179.76 131.85,179.61 132.85,179.54 133.85,179.30 134.85,178.94 135.86,179.67 136.86,180.59 137.86,180.99 138.87,180.71 139.87,181.66 140.87,184.72 141.87,186.06 142.88,189.22 143.88,191.05 144.88,191.85 145.89,192.17 146.89,193.09 147.89,193.04 148.89,193.66 149.90,194.77 150.90,195.28 151.90,196.18 152.91,196.75 153.91,197.43 154.91,197.40 155.91,197.87 156.92,198.73 157.92,197.02 158.92,197.85 159.93,197.36 160.93,195.32 161.93,194.81 162.93,193.82 163.94,194.30 164.94,194.36 165.94,195.33 166.95,197.11 167.95,199.29 168.95,201.49 169.95,205.13 170.96,206.82 171.96,204.64 172.96,203.85 173.97,201.36 174.97,198.07 175.97,197.48 176.97,196.45 177.98,196.53 178.98,196.78 179.98,194.86 180.98,194.96 181.99,194.49 182.99,194.25 183.99,193.23 185.00,191.80 186.00,189.39 187.00,187.33 188.00,186.94 189.01,186.20 190.01,186.78 191.01,187.50 192.02,189.06 193.02,187.69 194.02,187.60 195.02,188.33 196.03,187.21 197.03,188.26 198.03,188.95 199.04,189.72 200.04,189.71 201.04,191.80 202.04,192.30 203.05,192.39 204.05,194.15 205.05,195.13 206.06,196.40 207.06,196.46 208.06,198.21 209.06,198.13 210.07,198.83 211.07,200.60 212.07,202.52 213.08,202.75 214.08,203.76 215.08,204.12 216.08,204.63 217.09,205.06 218.09,205.03 219.09,206.72 220.10,205.69 221.10,206.14 222.10,205.74 223.10,205.72 224.11,205.70 225.11,205.93 226.11,206.79 227.12,206.92 228.12,207.21 229.12,206.54 230.12,207.78 231.13,207.52 232.13,206.41 233.13,204.48 234.13,203.99 235.14,204.14 236.14,203.22 237.14,202.46 238.15,201.00 239.15,202.50 240.15,201.45 241.15,200.60 242.16,199.78 243.16,198.09 244.16,196.63 245.17,196.59 246.17,194.64 247.17,192.58 248.17,191.08 249.18,188.68 250.18,188.01 251.18,187.17 252.19,187.10 253.19,187.01 254.19,184.53 255.19,184.57 256.20,186.46 257.20,185.82 258.20,187.56 259.21,188.67 260.21,189.15 261.21,189.21 262.21,190.69 263.22,192.01 264.22,193.22 265.22,195.13 266.23,194.92 267.23,195.24 268.23,196.53 269.23,195.85 270.24,196.11 271.24,197.38 272.24,197.35 273.25,199.77 274.25,199.15 275.25,201.10 276.25,201.41 277.26,202.22 278.26,203.83 279.26,202.67 280.27,204.39 281.27,204.57 282.27,203.71 283.27,205.79 284.28,203.70 285.28,204.45 286.28,202.75 287.28,199.71 288.29,197.73 289.29,196.37 290.29,195.63 291.30,194.59 292.30,193.16 293.30,193.06 294.30,193.02 295.31,192.86 296.31,192.70 297.31,193.18 298.32,192.31 299.32,193.35 300.32,192.95 301.32,194.08 302.33,192.48 303.33,193.76 304.33,194.28 305.34,195.72 306.34,195.15 307.34,196.34 308.34,198.31 309.35,197.46 310.35,195.98 311.35,194.60 312.36,195.20 313.36,196.63 314.36,196.57 315.36,197.61 316.37,197.15 317.37,195.79 318.37,196.07 319.38,194.96 320.38,194.07 321.38,192.58 322.38,190.58 323.39,188.26 324.39,187.73 325.39,188.28 326.40,187.87 327.40,188.08 328.40,187.17 329.40,187.99 330.41,186.85 331.41,185.84 332.41,186.79 333.42,186.22 334.42,186.67 335.42,188.22 336.42,188.48 337.43,190.64 338.43,192.39 339.43,193.17 340.43,193.99 341.44,194.50 342.44,196.18 343.44,197.27 344.45,198.46 345.45,200.06 346.45,200.42 347.45,201.01 348.46,200.25 349.46,199.27 350.46,199.12 351.47,197.60 352.47,196.58 353.47,195.88 354.47,196.94 355.48,195.95 356.48,196.91 357.48,194.74 358.49,193.43 359.49,193.85 360.49,191.92 361.49,192.13 362.50,191.43 363.50,191.40" fill="none" stroke="#727272" stroke-width="1.6" stroke-linejoin="bevel"/>
<rect x="61.42" y="27.60" width="100.71" height="199.10" fill="rgb(190,190,190)" fill-opacity="0.25"/>
<rect x="162.13" y="27.60" width="33.57" height="199.10" fill="rgb(255,175,175)" fill-opacity="0.25"/>
<line x1="61.42" y1="30.00" x2="61.42" y2="226.70" stroke="#555" stroke-width="1"/>
<line x1="44.50" y1="30.00" x2="44.50" y2="227.50" stroke="#777" stroke-width="1"/>
<line x1="44.50" y1="227.00" x2="363.50" y2="227.00" stroke="#707070" stroke-width="1"/>
<line x1="61.42" y1="226.70" x2="61.42" y2="223.90" stroke="#777" stroke-width="1"/>
<line x1="94.99" y1="226.70" x2="94.99" y2="223.90" stroke="#777" stroke-width="1"/>
<line x1="128.56" y1="226.70" x2="128.56" y2="223.90" stroke="#777" stroke-width="1"/>
<line x1="162.13" y1="226.70" x2="162.13" y2="223.90" stroke="#777" stroke-width="1"/>
<line x1="195.70" y1="226.70" x2="195.70" y2="223.90" stroke="#777" stroke-width="1"/>
<line x1="229.27" y1="226.70" x2="229.27" y2="223.90" stroke="#777" stroke-width="1"/>
<line x1="262.84" y1="226.70" x2="262.84" y2="223.90" stroke="#777" stroke-width="1"/>
<line x1="296.41" y1="226.70" x2="296.41" y2="223.90" stroke="#777" stroke-width="1"/>
<line x1="329.98" y1="226.70" x2="329.98" y2="223.90" stroke="#777" stroke-width="1"/>
<line x1="363.55" y1="226.70" x2="363.55" y2="223.90" stroke="#777" stroke-width="1"/>
<line x1="44.60" y1="46.30" x2="47.60" y2="46.30" stroke="#777" stroke-width="1"/>
<line x1="44.60" y1="111.90" x2="47.60" y2="111.90" stroke="#777" stroke-width="1"/>
<line x1="44.60" y1="178.10" x2="47.60" y2="178.10" stroke="#777" stroke-width="1"/>
<rect x="452.20" y="22.70" width="33.30" height="4.20" fill="#ff0000"/>
<rect x="485.50" y="22.90" width="167.40" height="4.00" fill="#000"/>
<polygon points="435.70,176.73 436.70,175.37 437.70,174.45 438.70,173.26 439.71,171.97 440.71,170.65 441.71,170.51 442.71,167.97 443.71,169.71 444.71,169.11 445.71,167.84 446.72,167.45 447.72,167.16 448.72,169.61 449.72,168.13 450.72,168.85 451.72,171.15 452.72,168.89 453.72,169.71 454.73,169.13 455.73,169.12 456.73,166.04 457.73,166.37 458.73,166.78 459.73,166.20 460.73,168.26 461.74,169.00 462.74,171.02 463.74,167.45 464.74,166.95 465.74,164.57 466.74,160.38 467.74,159.97 468.75,157.83 469.75,156.44 470.75,152.85 471.75,148.92 472.75,143.14 473.75,139.45 474.75,134.90 475.76,130.59 476.76,125.70 477.76,122.85 478.76,118.03 479.76,114.15 480.76,113.71 481.76,110.24 482.77,108.11 483.77,104.28 484.77,105.67 485.77,106.17 486.77,106.67 487.77,112.00 488.77,113.33 489.77,116.25 490.78,119.03 491.78,119.30 492.78,121.97 493.78,127.65 494.78,129.54 495.78,134.01 496.78,136.50 497.79,142.74 498.79,148.90 499.79,151.93 500.79,157.08 501.79,158.95 502.79,160.21 503.79,161.39 504.80,159.41 505.80,162.46 506.80,161.88 507.80,162.15 508.80,161.52 509.80,161.87 510.80,162.64 511.81,162.59 512.81,162.98 513.81,165.59 514.81,165.36 515.81,164.55 516.81,166.40 517.81,164.03 518.82,164.93 519.82,164.63 520.82,167.68 521.82,166.88 522.82,165.78 523.82,163.00 524.82,161.21 525.83,157.89 526.83,157.39 527.83,156.19 528.83,156.27 529.83,153.00 530.83,151.78 531.83,148.80 532.83,148.71 533.84,146.37 534.84,144.13 535.84,143.66 536.84,143.18 537.84,144.73 538.84,143.23 539.84,144.59 540.85,144.78 541.85,147.95 542.85,149.55 543.85,148.81 544.85,144.01 545.85,143.94 546.85,142.99 547.86,142.50 548.86,139.35 549.86,139.53 550.86,139.29 551.86,140.78 552.86,141.60 553.86,143.76 554.87,144.71 555.87,144.39 556.87,143.10 557.87,142.26 558.87,141.78 559.87,141.81 560.87,144.66 561.88,148.60 562.88,150.89 563.88,153.61 564.88,155.86 565.88,157.57 566.88,159.08 567.88,158.28 568.88,156.46 569.89,154.95 570.89,158.13 571.89,157.98 572.89,160.00 573.89,162.29 574.89,162.42 575.89,164.14 576.90,163.56 577.90,165.45 578.90,166.29 579.90,164.81 580.90,166.40 581.90,168.24 582.90,167.95 583.91,166.82 584.91,166.98 585.91,169.50 586.91,168.04 587.91,167.23 588.91,168.25 589.91,165.90 590.92,164.18 591.92,162.00 592.92,159.63 593.92,158.47 594.92,158.00 595.92,157.58 596.92,155.21 597.92,155.22 598.93,153.17 599.93,154.28 600.93,152.99 601.93,152.10 602.93,152.00 603.93,153.73 604.93,154.30 605.94,154.28 606.94,156.65 607.94,156.68 608.94,158.55 609.94,156.84 610.94,157.32 611.94,158.02 612.95,158.83 613.95,158.91 614.95,160.17 615.95,163.75 616.95,167.20 617.95,167.47 618.95,169.85 619.96,169.15 620.96,168.37 621.96,168.93 622.96,168.55 623.96,169.33 624.96,171.31 625.96,174.69 626.97,174.62 627.97,176.45 628.97,175.86 629.97,175.06 630.97,177.16 631.97,177.90 632.97,177.70 633.98,177.70 634.98,175.35 635.98,177.76 636.98,177.41 637.98,174.90 638.98,174.16 639.98,173.64 640.98,170.31 641.99,168.66 642.99,165.18 643.99,163.65 644.99,161.51 645.99,159.75 646.99,158.80 647.99,156.83 649.00,156.75 650.00,154.79 651.00,151.58 652.00,149.61 652.00,169.35 651.00,170.39 650.00,173.19 649.00,174.50 647.99,176.40 646.99,176.90 645.99,177.84 644.99,180.68 643.99,180.81 642.99,183.64 641.99,185.94 640.98,188.78 639.98,190.48 638.98,193.29 637.98,192.41 636.98,194.39 635.98,194.24 634.98,195.40 633.98,194.35 632.97,196.48 631.97,197.35 630.97,194.46 629.97,193.82 628.97,195.80 627.97,196.56 626.97,194.71 625.96,194.98 624.96,192.29 623.96,188.88 622.96,186.43 621.96,185.20 620.96,185.13 619.96,185.64 618.95,187.80 617.95,186.52 616.95,183.12 615.95,180.79 614.95,178.20 613.95,177.28 612.95,174.55 611.94,176.09 610.94,176.37 609.94,175.31 608.94,176.24 607.94,173.48 606.94,173.39 605.94,172.13 604.93,172.10 603.93,171.77 602.93,169.76 601.93,169.80 600.93,171.64 599.93,171.53 598.93,171.72 597.92,175.55 596.92,174.69 595.92,176.05 594.92,175.70 593.92,175.26 592.92,175.56 591.92,176.77 590.92,179.82 589.91,183.06 588.91,185.72 587.91,185.35 586.91,186.36 585.91,186.97 584.91,186.23 583.91,184.75 582.90,185.77 581.90,184.64 580.90,181.82 579.90,180.76 578.90,182.53 577.90,182.18 576.90,180.86 575.89,181.69 574.89,179.64 573.89,180.46 572.89,177.67 571.89,175.89 570.89,175.67 569.89,175.10 568.88,176.30 567.88,175.88 566.88,177.36 565.88,173.77 564.88,173.00 563.88,170.52 562.88,167.69 561.88,166.83 560.87,163.61 559.87,160.79 558.87,159.79 557.87,158.66 556.87,158.72 555.87,160.07 554.87,161.20 553.86,160.94 552.86,162.99 551.86,160.11 550.86,159.20 549.86,157.24 548.86,158.22 547.86,160.10 546.85,160.04 545.85,160.09 544.85,162.55 543.85,166.39 542.85,167.42 541.85,167.16 540.85,164.87 539.84,163.91 538.84,162.27 537.84,161.63 536.84,162.97 535.84,162.10 534.84,162.80 533.84,164.90 532.83,167.21 531.83,166.26 530.83,171.19 529.83,173.12 528.83,175.90 527.83,174.44 526.83,175.95 525.83,176.77 524.82,178.66 523.82,180.64 522.82,184.06 521.82,185.79 520.82,185.41 519.82,184.40 518.82,186.03 517.81,183.17 516.81,184.78 515.81,183.64 514.81,182.09 513.81,182.81 512.81,180.68 511.81,180.71 510.80,178.60 509.80,180.24 508.80,179.42 507.80,178.81 506.80,178.68 505.80,179.83 504.80,177.77 503.79,177.82 502.79,178.24 501.79,177.69 500.79,175.49 499.79,171.90 498.79,165.27 497.79,162.91 496.78,158.61 495.78,157.36 494.78,151.99 493.78,147.18 492.78,143.55 491.78,139.97 490.78,141.16 489.77,136.76 488.77,133.11 487.77,131.64 486.77,129.49 485.77,127.73 484.77,126.05 483.77,127.79 482.77,130.15 481.76,133.52 480.76,135.21 479.76,137.82 478.76,140.49 477.76,144.09 476.76,148.31 475.76,151.35 474.75,155.93 473.75,161.85 472.75,163.37 471.75,165.18 470.75,168.27 469.75,172.31 468.75,176.94 467.74,179.36 466.74,179.58 465.74,181.81 464.74,185.57 463.74,185.42 462.74,188.77 461.74,185.25 460.73,185.59 459.73,185.23 458.73,185.08 457.73,185.19 456.73,186.29 455.73,187.85 454.73,188.08 453.72,189.08 452.72,187.34 451.72,189.64 450.72,188.74 449.72,185.82 448.72,186.15 447.72,184.60 446.72,185.36 445.71,185.96 444.71,186.34 443.71,187.51 442.71,187.05 441.71,189.36 440.71,188.23 439.71,188.87 438.70,191.81 437.70,190.77 436.70,191.26 435.70,192.53" fill="#ff0000" fill-opacity="0.45"/>
<polyline points="435.70,184.44 436.70,182.87 437.70,182.32 438.70,181.08 439.71,179.55 440.71,178.90 441.71,178.44 442.71,177.33 443.71,177.55 444.71,177.23 445.71,176.83 446.72,176.34 447.72,176.61 448.72,177.80 449.72,176.98 450.72,179.05 451.72,179.98 452.72,178.50 453.72,178.82 454.73,176.90 455.73,177.35 456.73,175.97 457.73,176.13 458.73,175.99 459.73,175.89 460.73,176.05 461.74,176.46 462.74,179.04 463.74,177.49 464.74,176.57 465.74,173.41 466.74,170.99 467.74,168.59 468.75,166.33 469.75,164.07 470.75,160.50 471.75,157.14 472.75,153.54 473.75,150.34 474.75,146.32 475.76,140.69 476.76,136.96 477.76,133.56 478.76,129.33 479.76,126.89 480.76,124.90 481.76,122.05 482.77,119.60 483.77,116.34 484.77,116.01 485.77,117.32 486.77,118.57 487.77,122.18 488.77,123.48 489.77,126.78 490.78,130.12 491.78,130.92 492.78,133.85 493.78,137.90 494.78,141.57 495.78,146.14 496.78,148.87 497.79,153.57 498.79,157.75 499.79,162.47 500.79,166.41 501.79,168.65 502.79,169.27 503.79,169.47 504.80,169.46 505.80,170.72 506.80,169.65 507.80,170.19 508.80,170.17 509.80,170.36 510.80,170.58 511.81,172.48 512.81,172.07 513.81,173.81 514.81,172.87 515.81,174.29 516.81,174.59 517.81,174.61 518.82,175.55 519.82,175.93 520.82,176.65 521.82,175.87 522.82,174.22 523.82,170.98 524.82,169.75 525.83,167.55 526.83,166.32 527.83,165.74 528.83,165.55 529.83,163.00 530.83,161.48 531.83,158.22 532.83,157.36 533.84,155.10 534.84,153.50 535.84,152.59 536.84,152.54 537.84,153.44 538.84,152.62 539.84,154.12 540.85,154.48 541.85,157.41 542.85,157.65 543.85,157.49 544.85,153.98 545.85,151.74 546.85,151.11 547.86,150.77 548.86,149.60 549.86,149.08 550.86,149.96 551.86,149.97 552.86,152.84 553.86,152.17 554.87,153.27 555.87,152.44 556.87,151.67 557.87,150.53 558.87,150.66 559.87,152.33 560.87,154.73 561.88,157.59 562.88,159.34 563.88,161.53 564.88,164.32 565.88,165.38 566.88,167.48 567.88,167.10 568.88,165.74 569.89,165.99 570.89,167.41 571.89,168.18 572.89,170.12 573.89,171.90 574.89,172.09 575.89,173.46 576.90,172.68 577.90,173.52 578.90,173.73 579.90,173.25 580.90,174.27 581.90,175.50 582.90,175.39 583.91,175.60 584.91,177.37 585.91,178.50 586.91,177.86 587.91,177.22 588.91,176.73 589.91,174.37 590.92,171.52 591.92,169.39 592.92,168.50 593.92,166.81 594.92,166.13 595.92,166.57 596.92,165.88 597.92,164.96 598.93,163.03 599.93,162.86 600.93,162.68 601.93,161.38 602.93,162.01 603.93,162.10 604.93,164.00 605.94,163.97 606.94,164.61 607.94,164.91 608.94,166.61 609.94,165.49 610.94,165.97 611.94,165.93 612.95,166.68 613.95,167.19 614.95,168.47 615.95,172.62 616.95,174.97 617.95,178.04 618.95,179.40 619.96,177.90 620.96,176.93 621.96,177.29 622.96,176.88 623.96,178.96 624.96,181.20 625.96,183.89 626.97,184.17 627.97,186.65 628.97,185.20 629.97,185.06 630.97,186.66 631.97,187.81 632.97,187.36 633.98,186.84 634.98,185.83 635.98,185.69 636.98,184.82 637.98,183.91 638.98,183.77 639.98,181.29 640.98,179.12 641.99,177.63 642.99,175.72 643.99,172.50 644.99,170.85 645.99,167.97 646.99,167.65 647.99,166.55 649.00,165.37 650.00,164.24 651.00,160.62 652.00,159.26" fill="none" stroke="#ff0000" stroke-width="1.75" stroke-linejoin="bevel"/>
<polygon points="435.70,188.86 436.70,187.88 437.70,188.42 438.70,189.84 439.71,188.12 440.71,189.04 441.71,187.94 442.71,186.62 443.71,187.91 444.71,185.42 445.71,188.53 446.72,188.93 447.72,190.10 448.72,191.04 449.72,192.13 450.72,194.75 451.72,195.22 452.72,193.10 453.72,193.89 454.73,195.37 455.73,195.46 456.73,197.56 457.73,196.92 458.73,196.47 459.73,196.74 460.73,197.08 461.74,198.95 462.74,199.89 463.74,199.34 464.74,197.14 465.74,194.75 466.74,191.72 467.74,188.28 468.75,187.93 469.75,185.21 470.75,183.54 471.75,178.99 472.75,176.27 473.75,175.60 474.75,172.71 475.76,169.33 476.76,165.18 477.76,162.46 478.76,162.37 479.76,162.22 480.76,163.33 481.76,161.74 482.77,163.26 483.77,163.44 484.77,167.07 485.77,168.10 486.77,169.33 487.77,171.57 488.77,171.84 489.77,174.77 490.78,175.65 491.78,177.53 492.78,183.14 493.78,184.10 494.78,184.59 495.78,188.90 496.78,189.16 497.79,188.52 498.79,190.92 499.79,189.42 500.79,191.09 501.79,189.51 502.79,189.39 503.79,190.00 504.80,193.55 505.80,194.02 506.80,195.05 507.80,194.76 508.80,191.42 509.80,190.11 510.80,187.36 511.81,184.17 512.81,181.44 513.81,178.42 514.81,179.23 515.81,175.65 516.81,176.66 517.81,178.44 518.82,177.86 519.82,175.69 520.82,174.81 521.82,172.31 522.82,172.07 523.82,171.83 524.82,175.91 525.83,179.90 526.83,183.62 527.83,188.64 528.83,190.50 529.83,191.69 530.83,191.27 531.83,188.50 532.83,187.84 533.84,189.48 534.84,186.84 535.84,185.89 536.84,184.55 537.84,183.43 538.84,182.71 539.84,182.39 540.85,182.33 541.85,179.58 542.85,177.48 543.85,176.36 544.85,174.87 545.85,173.23 546.85,173.77 547.86,174.21 548.86,177.58 549.86,177.36 550.86,178.04 551.86,178.64 552.86,178.47 553.86,181.00 554.87,181.44 555.87,183.43 556.87,185.00 557.87,186.69 558.87,192.18 559.87,190.99 560.87,193.70 561.88,191.31 562.88,191.08 563.88,188.31 564.88,186.04 565.88,185.16 566.88,187.14 567.88,187.90 568.88,186.60 569.89,186.72 570.89,183.59 571.89,183.04 572.89,180.56 573.89,177.91 574.89,177.22 575.89,173.29 576.90,172.57 577.90,172.17 578.90,171.44 579.90,172.01 580.90,173.82 581.90,173.89 582.90,173.45 583.91,171.72 584.91,174.97 585.91,174.73 586.91,177.43 587.91,176.48 588.91,176.00 589.91,176.74 590.92,177.22 591.92,176.93 592.92,175.09 593.92,176.21 594.92,174.50 595.92,173.98 596.92,174.17 597.92,175.21 598.93,173.97 599.93,173.65 600.93,171.97 601.93,170.36 602.93,170.13 603.93,171.54 604.93,170.18 605.94,172.19 606.94,172.75 607.94,169.50 608.94,167.28 609.94,164.81 610.94,163.86 611.94,163.95 612.95,163.80 613.95,163.20 614.95,161.60 615.95,160.26 616.95,159.01 617.95,156.63 618.95,156.52 619.96,153.67 620.96,150.97 621.96,148.85 622.96,152.07 623.96,152.83 624.96,158.31 625.96,159.48 626.97,161.00 627.97,161.96 628.97,164.58 629.97,163.77 630.97,164.76 631.97,171.72 632.97,175.49 633.98,179.94 634.98,179.62 635.98,181.07 636.98,179.24 637.98,180.34 638.98,178.96 639.98,177.16 640.98,175.72 641.99,174.56 642.99,173.75 643.99,174.62 644.99,174.44 645.99,176.98 646.99,175.84 647.99,175.54 649.00,173.65 650.00,170.55 651.00,167.22 652.00,167.58 652.00,186.04 651.00,185.30 650.00,188.55 649.00,191.43 647.99,191.83 646.99,193.06 645.99,195.66 644.99,192.69 643.99,192.48 642.99,191.97 641.99,192.71 640.98,192.70 639.98,197.89 638.98,196.15 637.98,196.97 636.98,197.54 635.98,198.87 634.98,198.02 633.98,195.95 632.97,191.99 631.97,189.02 630.97,183.47 629.97,181.72 628.97,183.63 627.97,181.71 626.97,179.15 625.96,176.52 624.96,174.95 623.96,171.22 622.96,168.40 621.96,168.44 620.96,171.23 619.96,172.15 618.95,176.73 617.95,176.00 616.95,177.17 615.95,177.77 614.95,179.14 613.95,179.46 612.95,182.10 611.94,182.11 610.94,183.44 609.94,184.44 608.94,186.26 607.94,188.86 606.94,190.95 605.94,191.28 604.93,188.27 603.93,185.69 602.93,186.15 601.93,187.97 600.93,190.48 599.93,190.53 598.93,191.85 597.92,191.80 596.92,192.29 595.92,191.54 594.92,193.71 593.92,194.10 592.92,193.02 591.92,194.87 590.92,196.11 589.91,193.59 588.91,194.51 587.91,194.69 586.91,197.14 585.91,194.49 584.91,193.00 583.91,190.04 582.90,189.91 581.90,190.60 580.90,191.23 579.90,190.19 578.90,188.93 577.90,188.18 576.90,188.35 575.89,189.00 574.89,194.05 573.89,195.38 572.89,197.19 571.89,199.61 570.89,200.74 569.89,203.75 568.88,204.60 567.88,204.56 566.88,203.46 565.88,203.92 564.88,202.82 563.88,206.27 562.88,207.24 561.88,209.79 560.87,210.69 559.87,208.25 558.87,210.38 557.87,206.18 556.87,203.10 555.87,200.84 554.87,199.98 553.86,198.19 552.86,196.17 551.86,194.21 550.86,194.03 549.86,192.92 548.86,195.03 547.86,192.44 546.85,192.06 545.85,189.94 544.85,191.65 543.85,195.40 542.85,195.90 541.85,196.66 540.85,198.84 539.84,197.27 538.84,199.53 537.84,199.42 536.84,200.45 535.84,202.72 534.84,205.10 533.84,206.42 532.83,207.64 531.83,207.51 530.83,209.38 529.83,208.69 528.83,207.25 527.83,204.40 526.83,199.93 525.83,196.33 524.82,191.60 523.82,187.98 522.82,188.62 521.82,188.96 520.82,191.60 519.82,193.35 518.82,194.48 517.81,196.68 516.81,194.82 515.81,195.36 514.81,197.03 513.81,194.62 512.81,196.13 511.81,200.77 510.80,205.51 509.80,206.43 508.80,209.24 507.80,212.80 506.80,211.61 505.80,210.87 504.80,209.43 503.79,207.39 502.79,206.03 501.79,207.35 500.79,206.21 499.79,206.75 498.79,208.37 497.79,206.80 496.78,206.09 495.78,204.27 494.78,202.34 493.78,201.49 492.78,200.99 491.78,197.29 490.78,193.78 489.77,192.14 488.77,190.60 487.77,189.05 486.77,187.37 485.77,185.21 484.77,183.87 483.77,181.96 482.77,179.19 481.76,178.84 480.76,179.57 479.76,178.35 478.76,178.94 477.76,181.09 476.76,182.99 475.76,185.81 474.75,187.68 473.75,192.13 472.75,194.73 471.75,198.26 470.75,198.44 469.75,201.99 468.75,204.52 467.74,205.07 466.74,208.35 465.74,211.56 464.74,213.99 463.74,214.13 462.74,214.88 461.74,212.76 460.73,213.85 459.73,212.42 458.73,212.20 457.73,212.19 456.73,213.60 455.73,212.27 454.73,212.73 453.72,212.78 452.72,211.20 451.72,210.98 450.72,210.21 449.72,208.13 448.72,208.06 447.72,207.26 446.72,205.36 445.71,203.63 444.71,204.71 443.71,203.21 442.71,202.42 441.71,204.59 440.71,205.48 439.71,204.65 438.70,204.53 437.70,205.07 436.70,204.79 435.70,206.70" fill="#0000ff" fill-opacity="0.45"/>
<polyline points="435.70,198.48 436.70,197.77 437.70,197.78 438.70,197.81 439.71,197.55 440.71,197.23 441.71,197.15 442.71,195.49 443.71,196.06 444.71,194.98 445.71,196.22 446.72,197.19 447.72,199.27 448.72,200.27 449.72,200.46 450.72,202.18 451.72,202.30 452.72,202.11 453.72,202.19 454.73,202.46 455.73,204.33 456.73,205.47 457.73,205.06 458.73,204.31 459.73,204.57 460.73,206.13 461.74,205.80 462.74,207.13 463.74,206.54 464.74,204.87 465.74,202.10 466.74,199.71 467.74,197.02 468.75,195.91 469.75,193.49 470.75,190.36 471.75,187.90 472.75,185.40 473.75,182.48 474.75,179.59 475.76,177.34 476.76,174.35 477.76,172.74 478.76,171.65 479.76,170.72 480.76,171.50 481.76,171.72 482.77,172.18 483.77,173.51 484.77,174.92 485.77,176.38 486.77,179.25 487.77,179.57 488.77,181.96 489.77,184.08 490.78,185.14 491.78,187.24 492.78,190.94 493.78,191.58 494.78,193.48 495.78,195.92 496.78,197.01 497.79,197.30 498.79,199.16 499.79,198.51 500.79,198.38 501.79,198.64 502.79,198.62 503.79,199.33 504.80,201.17 505.80,202.58 506.80,203.20 507.80,202.71 508.80,200.08 509.80,197.94 510.80,195.69 511.81,193.24 512.81,189.21 513.81,187.59 514.81,188.10 515.81,185.84 516.81,186.28 517.81,186.25 518.82,185.04 519.82,184.22 520.82,182.22 521.82,181.62 522.82,181.09 523.82,180.93 524.82,183.55 525.83,187.59 526.83,192.79 527.83,196.02 528.83,199.70 529.83,200.04 530.83,200.30 531.83,198.35 532.83,198.29 533.84,197.48 534.84,196.57 535.84,194.42 536.84,192.89 537.84,191.29 538.84,190.72 539.84,189.79 540.85,190.05 541.85,188.70 542.85,186.74 543.85,185.59 544.85,183.15 545.85,181.24 546.85,182.24 547.86,183.33 548.86,185.26 549.86,185.79 550.86,185.32 551.86,186.21 552.86,187.46 553.86,188.83 554.87,190.21 555.87,192.22 556.87,194.61 557.87,196.44 558.87,200.16 559.87,200.27 560.87,201.70 561.88,199.45 562.88,198.77 563.88,196.16 564.88,193.54 565.88,194.75 566.88,195.26 567.88,196.02 568.88,195.05 569.89,194.08 570.89,191.90 571.89,190.03 572.89,188.99 573.89,187.09 574.89,185.29 575.89,181.91 576.90,180.22 577.90,179.89 578.90,179.55 579.90,181.30 580.90,182.65 581.90,182.12 582.90,181.65 583.91,181.16 584.91,182.99 585.91,184.50 586.91,186.99 587.91,186.94 588.91,186.38 589.91,186.36 590.92,187.07 591.92,185.99 592.92,185.34 593.92,184.68 594.92,183.52 595.92,182.70 596.92,182.30 597.92,182.17 598.93,182.71 599.93,181.74 600.93,181.38 601.93,179.37 602.93,178.29 603.93,178.23 604.93,179.20 605.94,181.57 606.94,181.40 607.94,179.51 608.94,176.82 609.94,174.97 610.94,174.09 611.94,173.43 612.95,173.68 613.95,171.77 614.95,171.19 615.95,168.62 616.95,168.63 617.95,166.63 618.95,166.05 619.96,162.89 620.96,161.31 621.96,159.11 622.96,160.37 623.96,162.26 624.96,165.49 625.96,168.05 626.97,169.89 627.97,172.13 628.97,173.88 629.97,174.01 630.97,175.58 631.97,180.11 632.97,183.62 633.98,187.79 634.98,189.37 635.98,190.03 636.98,189.19 637.98,188.91 638.98,188.32 639.98,187.81 640.98,184.72 641.99,183.63 642.99,182.30 643.99,182.28 644.99,183.28 645.99,185.55 646.99,184.91 647.99,183.53 649.00,181.90 650.00,180.67 651.00,177.67 652.00,176.94" fill="none" stroke="#0000ff" stroke-width="1.75" stroke-linejoin="bevel"/>
<polygon points="435.70,185.14 436.70,184.46 437.70,179.87 438.70,178.66 439.71,175.55 440.71,173.79 441.71,173.77 442.71,171.53 443.71,172.47 444.71,172.54 445.71,170.88 446.72,173.44 447.72,172.49 448.72,173.92 449.72,175.65 450.72,178.06 451.72,180.22 452.72,185.32 453.72,185.70 454.73,189.32 455.73,191.57 456.73,194.87 457.73,194.43 458.73,194.10 459.73,192.99 460.73,192.96 461.74,191.17 462.74,191.07 463.74,194.58 464.74,193.72 465.74,193.57 466.74,190.58 467.74,187.85 468.75,188.75 469.75,186.97 470.75,188.25 471.75,187.99 472.75,185.83 473.75,188.19 474.75,185.61 475.76,183.55 476.76,185.35 477.76,184.66 478.76,184.43 479.76,185.68 480.76,184.76 481.76,185.32 482.77,185.94 483.77,185.59 484.77,187.76 485.77,188.98 486.77,191.48 487.77,193.10 488.77,193.06 489.77,194.19 490.78,195.30 491.78,195.50 492.78,194.09 493.78,194.56 494.78,195.18 495.78,199.93 496.78,200.28 497.79,200.14 498.79,198.45 499.79,198.14 500.79,197.68 501.79,200.68 502.79,198.65 503.79,195.84 504.80,196.59 505.80,197.39 506.80,199.39 507.80,199.08 508.80,200.73 509.80,201.69 510.80,200.16 511.81,198.01 512.81,198.76 513.81,196.74 514.81,198.37 515.81,198.58 516.81,198.52 517.81,198.03 518.82,197.33 519.82,197.80 520.82,194.41 521.82,194.91 522.82,192.85 523.82,194.44 524.82,194.22 525.83,189.30 526.83,190.28 527.83,188.86 528.83,189.36 529.83,186.03 530.83,185.97 531.83,186.48 532.83,184.56 533.84,181.47 534.84,181.03 535.84,180.45 536.84,182.72 537.84,182.77 538.84,180.41 539.84,180.94 540.85,178.94 541.85,181.07 542.85,182.02 543.85,182.83 544.85,179.93 545.85,178.89 546.85,180.03 547.86,180.35 548.86,179.80 549.86,179.87 550.86,180.85 551.86,183.20 552.86,183.32 553.86,184.90 554.87,186.29 555.87,187.08 556.87,188.73 557.87,191.14 558.87,191.60 559.87,191.76 560.87,192.28 561.88,193.67 562.88,191.93 563.88,188.43 564.88,187.90 565.88,186.57 566.88,188.72 567.88,189.02 568.88,189.18 569.89,189.61 570.89,189.09 571.89,190.54 572.89,188.95 573.89,191.13 574.89,191.97 575.89,191.04 576.90,188.36 577.90,188.08 578.90,187.19 579.90,186.39 580.90,184.48 581.90,187.63 582.90,189.04 583.91,189.16 584.91,190.89 585.91,191.20 586.91,193.14 587.91,194.02 588.91,192.07 589.91,193.20 590.92,196.65 591.92,195.63 592.92,197.10 593.92,195.94 594.92,196.80 595.92,196.07 596.92,197.10 597.92,195.87 598.93,195.33 599.93,193.16 600.93,193.43 601.93,193.60 602.93,194.35 603.93,196.22 604.93,195.91 605.94,193.83 606.94,192.68 607.94,192.30 608.94,193.53 609.94,194.47 610.94,194.00 611.94,192.75 612.95,192.88 613.95,190.13 614.95,190.95 615.95,190.56 616.95,191.82 617.95,191.41 618.95,188.64 619.96,187.26 620.96,186.50 621.96,182.79 622.96,182.36 623.96,184.83 624.96,185.59 625.96,187.92 626.97,184.76 627.97,187.63 628.97,189.27 629.97,188.12 630.97,188.88 631.97,186.14 632.97,188.25 633.98,188.74 634.98,183.64 635.98,181.90 636.98,182.06 637.98,180.60 638.98,180.06 639.98,180.36 640.98,181.62 641.99,183.24 642.99,184.74 643.99,184.29 644.99,186.78 645.99,187.41 646.99,186.73 647.99,186.36 649.00,184.63 650.00,182.63 651.00,182.05 652.00,182.37 652.00,194.72 651.00,195.01 650.00,193.92 649.00,196.16 647.99,196.06 646.99,197.26 645.99,197.28 644.99,195.42 643.99,195.40 642.99,194.90 641.99,193.79 640.98,192.70 639.98,192.74 638.98,191.78 637.98,192.24 636.98,191.09 635.98,193.85 634.98,195.93 633.98,196.86 632.97,197.88 631.97,198.12 630.97,198.38 629.97,199.34 628.97,197.50 627.97,197.01 626.97,195.12 625.96,198.37 624.96,197.19 623.96,194.74 622.96,194.19 621.96,192.57 620.96,196.10 619.96,195.63 618.95,199.56 617.95,202.18 616.95,202.30 615.95,200.50 614.95,200.45 613.95,202.26 612.95,204.08 611.94,203.82 610.94,204.13 609.94,207.43 608.94,204.81 607.94,203.61 606.94,205.16 605.94,204.67 604.93,206.99 603.93,206.45 602.93,204.01 601.93,202.88 600.93,202.96 599.93,202.80 598.93,204.96 597.92,204.24 596.92,206.83 595.92,206.68 594.92,206.39 593.92,207.78 592.92,206.74 591.92,206.09 590.92,204.65 589.91,204.73 588.91,202.24 587.91,205.26 586.91,203.01 585.91,203.84 584.91,202.85 583.91,200.93 582.90,199.10 581.90,199.52 580.90,195.87 579.90,198.84 578.90,196.06 577.90,198.83 576.90,197.56 575.89,198.88 574.89,199.43 573.89,200.94 572.89,199.69 571.89,199.76 570.89,198.79 569.89,199.00 568.88,199.62 567.88,199.12 566.88,199.15 565.88,199.69 564.88,199.45 563.88,200.52 562.88,201.57 561.88,202.64 560.87,204.28 559.87,202.57 558.87,201.73 557.87,200.36 556.87,199.37 555.87,198.31 554.87,198.42 553.86,196.88 552.86,196.54 551.86,194.99 550.86,192.36 549.86,191.03 548.86,189.55 547.86,188.74 546.85,189.86 545.85,189.00 544.85,191.74 543.85,193.48 542.85,192.42 541.85,191.92 540.85,189.31 539.84,189.29 538.84,191.52 537.84,192.10 536.84,193.11 535.84,191.96 534.84,191.49 533.84,191.57 532.83,193.12 531.83,195.15 530.83,195.01 529.83,194.55 528.83,197.27 527.83,198.66 526.83,199.52 525.83,199.31 524.82,202.90 523.82,206.53 522.82,206.45 521.82,204.10 520.82,206.38 519.82,207.17 518.82,205.66 517.81,207.51 516.81,207.63 515.81,207.71 514.81,208.20 513.81,211.59 512.81,211.31 511.81,210.39 510.80,210.68 509.80,211.56 508.80,212.47 507.80,209.82 506.80,211.25 505.80,208.82 504.80,206.38 503.79,205.33 502.79,209.74 501.79,210.57 500.79,209.73 499.79,209.13 498.79,209.34 497.79,209.96 496.78,210.31 495.78,208.34 494.78,207.76 493.78,206.05 492.78,204.32 491.78,205.89 490.78,205.15 489.77,203.12 488.77,204.49 487.77,203.42 486.77,202.08 485.77,199.85 484.77,199.42 483.77,198.67 482.77,196.85 481.76,193.81 480.76,194.57 479.76,194.35 478.76,194.51 477.76,195.92 476.76,196.76 475.76,196.38 474.75,197.97 473.75,196.92 472.75,195.65 471.75,196.66 470.75,199.12 469.75,198.08 468.75,200.10 467.74,199.40 466.74,201.96 465.74,205.08 464.74,205.10 463.74,205.26 462.74,202.62 461.74,204.30 460.73,203.15 459.73,205.37 458.73,205.00 457.73,203.15 456.73,204.03 455.73,200.35 454.73,199.00 453.72,194.99 452.72,193.92 451.72,189.03 450.72,188.53 449.72,183.85 448.72,182.74 447.72,181.39 446.72,182.34 445.71,182.76 444.71,182.86 443.71,183.82 442.71,183.77 441.71,182.81 440.71,183.50 439.71,186.24 438.70,187.27 437.70,192.60 436.70,196.23 435.70,196.05" fill="#808080" fill-opacity="0.48"/>
<polyline points="435.70,191.08 436.70,189.87 437.70,187.10 438.70,183.59 439.71,181.31 440.71,179.67 441.71,179.32 442.71,178.04 443.71,177.46 444.71,177.50 445.71,177.17 446.72,178.15 447.72,177.41 448.72,178.44 449.72,180.31 450.72,183.34 451.72,185.60 452.72,189.84 453.72,192.14 454.73,195.63 455.73,196.46 456.73,199.57 457.73,198.63 458.73,199.20 459.73,198.82 460.73,197.74 461.74,197.86 462.74,197.36 463.74,198.77 464.74,198.41 465.74,198.29 466.74,195.67 467.74,194.20 468.75,194.34 469.75,192.72 470.75,193.61 471.75,192.49 472.75,191.29 473.75,191.78 474.75,190.95 475.76,189.35 476.76,189.95 477.76,189.99 478.76,189.98 479.76,190.01 480.76,189.40 481.76,189.65 482.77,190.21 483.77,191.91 484.77,193.00 485.77,194.31 486.77,196.66 487.77,198.24 488.77,198.01 489.77,198.84 490.78,199.77 491.78,199.57 492.78,198.77 493.78,201.45 494.78,201.72 495.78,204.79 496.78,204.92 497.79,205.59 498.79,204.50 499.79,204.69 500.79,204.42 501.79,205.14 502.79,203.55 503.79,201.26 504.80,201.84 505.80,203.36 506.80,204.93 507.80,205.38 508.80,205.71 509.80,206.93 510.80,205.45 511.81,204.81 512.81,206.07 513.81,204.45 514.81,203.68 515.81,203.06 516.81,203.29 517.81,202.21 518.82,202.03 519.82,201.92 520.82,199.95 521.82,199.47 522.82,200.34 523.82,199.42 524.82,198.42 525.83,194.75 526.83,194.63 527.83,193.73 528.83,193.20 529.83,191.34 530.83,190.09 531.83,190.44 532.83,189.60 533.84,187.04 534.84,187.47 535.84,185.84 536.84,187.61 537.84,187.32 538.84,186.91 539.84,185.67 540.85,184.83 541.85,187.60 542.85,187.16 543.85,187.77 544.85,186.66 545.85,184.27 546.85,185.81 547.86,184.94 548.86,185.17 549.86,186.70 550.86,186.66 551.86,188.37 552.86,189.27 553.86,190.82 554.87,192.13 555.87,192.70 556.87,193.68 557.87,195.01 558.87,196.82 559.87,197.66 560.87,198.21 561.88,197.23 562.88,195.60 563.88,194.62 564.88,192.46 565.88,192.64 566.88,192.31 567.88,193.33 568.88,193.72 569.89,193.41 570.89,193.66 571.89,195.39 572.89,194.25 573.89,195.79 574.89,196.15 575.89,195.14 576.90,193.42 577.90,192.40 578.90,190.73 579.90,191.73 580.90,191.00 581.90,192.71 582.90,194.23 583.91,194.97 584.91,196.47 585.91,198.06 586.91,197.27 587.91,198.86 588.91,197.58 589.91,198.82 590.92,199.97 591.92,200.95 592.92,200.71 593.92,200.93 594.92,201.44 595.92,202.30 596.92,201.34 597.92,200.54 598.93,200.14 599.93,198.93 600.93,199.75 601.93,198.68 602.93,200.28 603.93,201.51 604.93,201.42 605.94,200.30 606.94,200.18 607.94,198.61 608.94,199.44 609.94,199.95 610.94,197.96 611.94,198.06 612.95,198.13 613.95,196.34 614.95,195.69 615.95,195.27 616.95,195.73 617.95,195.41 618.95,193.00 619.96,191.60 620.96,190.50 621.96,188.52 622.96,188.48 623.96,190.37 624.96,190.85 625.96,192.01 626.97,191.00 627.97,193.01 628.97,193.91 629.97,193.55 630.97,193.87 631.97,192.42 632.97,192.23 633.98,192.02 634.98,189.47 635.98,187.55 636.98,186.87 637.98,186.61 638.98,186.90 639.98,187.54 640.98,187.47 641.99,189.44 642.99,190.46 643.99,190.74 644.99,191.49 645.99,191.87 646.99,191.40 647.99,190.15 649.00,189.78 650.00,188.46 651.00,188.89 652.00,188.91" fill="none" stroke="#727272" stroke-width="1.6" stroke-linejoin="bevel"/>
<rect x="452.20" y="27.60" width="33.30" height="199.10" fill="rgb(255,175,175)" fill-opacity="0.25"/>
<line x1="452.20" y1="30.00" x2="452.20" y2="226.70" stroke="#777" stroke-width="1"/>
<line x1="435.50" y1="30.00" x2="435.50" y2="227.50" stroke="#777" stroke-width="1"/>
<line x1="435.50" y1="227.00" x2="652.00" y2="227.00" stroke="#707070" stroke-width="1"/>
<line x1="452.20" y1="226.70" x2="452.20" y2="223.90" stroke="#777" stroke-width="1"/>
<line x1="485.50" y1="226.70" x2="485.50" y2="223.90" stroke="#777" stroke-width="1"/>
<line x1="518.80" y1="226.70" x2="518.80" y2="223.90" stroke="#777" stroke-width="1"/>
<line x1="552.10" y1="226.70" x2="552.10" y2="223.90" stroke="#777" stroke-width="1"/>
<line x1="585.40" y1="226.70" x2="585.40" y2="223.90" stroke="#777" stroke-width="1"/>
<line x1="618.70" y1="226.70" x2="618.70" y2="223.90" stroke="#777" stroke-width="1"/>
<line x1="652.00" y1="226.70" x2="652.00" y2="223.90" stroke="#777" stroke-width="1"/>
<line x1="435.70" y1="46.30" x2="438.70" y2="46.30" stroke="#777" stroke-width="1"/>
<line x1="435.70" y1="112.00" x2="438.70" y2="112.00" stroke="#777" stroke-width="1"/>
<line x1="435.70" y1="178.00" x2="438.70" y2="178.00" stroke="#777" stroke-width="1"/>
<rect x="496.00" y="36.90" width="15.10" height="8.00" fill="#ff8080"/>
<line x1="491.70" y1="40.90" x2="514.90" y2="40.90" stroke="#ff0000" stroke-width="1.8"/>
<rect x="496.00" y="56.80" width="15.10" height="8.00" fill="#8080ff"/>
<line x1="491.70" y1="60.80" x2="514.90" y2="60.80" stroke="#0000ff" stroke-width="1.8"/>
<rect x="496.00" y="76.50" width="15.10" height="8.00" fill="#c0c0c0"/>
<line x1="491.70" y1="80.50" x2="514.90" y2="80.50" stroke="#808080" stroke-width="1.8"/>
<rect x="44.60" y="269.70" width="319.00" height="10.70" fill="none" stroke="#777" stroke-width="1"/>
<line x1="61.42" y1="269.70" x2="61.42" y2="272.30" stroke="#777" stroke-width="1"/>
<line x1="61.42" y1="280.40" x2="61.42" y2="277.80" stroke="#777" stroke-width="1"/>
<line x1="94.99" y1="269.70" x2="94.99" y2="272.30" stroke="#777" stroke-width="1"/>
<line x1="94.99" y1="280.40" x2="94.99" y2="277.80" stroke="#777" stroke-width="1"/>
<line x1="128.56" y1="269.70" x2="128.56" y2="272.30" stroke="#777" stroke-width="1"/>
<line x1="128.56" y1="280.40" x2="128.56" y2="277.80" stroke="#777" stroke-width="1"/>
<line x1="162.13" y1="269.70" x2="162.13" y2="272.30" stroke="#777" stroke-width="1"/>
<line x1="162.13" y1="280.40" x2="162.13" y2="277.80" stroke="#777" stroke-width="1"/>
<line x1="195.70" y1="269.70" x2="195.70" y2="272.30" stroke="#777" stroke-width="1"/>
<line x1="195.70" y1="280.40" x2="195.70" y2="277.80" stroke="#777" stroke-width="1"/>
<line x1="229.27" y1="269.70" x2="229.27" y2="272.30" stroke="#777" stroke-width="1"/>
<line x1="229.27" y1="280.40" x2="229.27" y2="277.80" stroke="#777" stroke-width="1"/>
<line x1="262.84" y1="269.70" x2="262.84" y2="272.30" stroke="#777" stroke-width="1"/>
<line x1="262.84" y1="280.40" x2="262.84" y2="277.80" stroke="#777" stroke-width="1"/>
<line x1="296.41" y1="269.70" x2="296.41" y2="272.30" stroke="#777" stroke-width="1"/>
<line x1="296.41" y1="280.40" x2="296.41" y2="277.80" stroke="#777" stroke-width="1"/>
<line x1="329.98" y1="269.70" x2="329.98" y2="272.30" stroke="#777" stroke-width="1"/>
<line x1="329.98" y1="280.40" x2="329.98" y2="277.80" stroke="#777" stroke-width="1"/>
<rect x="44.60" y="308.60" width="319.00" height="10.70" fill="none" stroke="#777" stroke-width="1"/>
<line x1="61.42" y1="308.60" x2="61.42" y2="311.20" stroke="#777" stroke-width="1"/>
<line x1="61.42" y1="319.30" x2="61.42" y2="316.70" stroke="#777" stroke-width="1"/>
<line x1="94.99" y1="308.60" x2="94.99" y2="311.20" stroke="#777" stroke-width="1"/>
<line x1="94.99" y1="319.30" x2="94.99" y2="316.70" stroke="#777" stroke-width="1"/>
<line x1="128.56" y1="308.60" x2="128.56" y2="311.20" stroke="#777" stroke-width="1"/>
<line x1="128.56" y1="319.30" x2="128.56" y2="316.70" stroke="#777" stroke-width="1"/>
<line x1="162.13" y1="308.60" x2="162.13" y2="311.20" stroke="#777" stroke-width="1"/>
<line x1="162.13" y1="319.30" x2="162.13" y2="316.70" stroke="#777" stroke-width="1"/>
<line x1="195.70" y1="308.60" x2="195.70" y2="311.20" stroke="#777" stroke-width="1"/>
<line x1="195.70" y1="319.30" x2="195.70" y2="316.70" stroke="#777" stroke-width="1"/>
<line x1="229.27" y1="308.60" x2="229.27" y2="311.20" stroke="#777" stroke-width="1"/>
<line x1="229.27" y1="319.30" x2="229.27" y2="316.70" stroke="#777" stroke-width="1"/>
<line x1="262.84" y1="308.60" x2="262.84" y2="311.20" stroke="#777" stroke-width="1"/>
<line x1="262.84" y1="319.30" x2="262.84" y2="316.70" stroke="#777" stroke-width="1"/>
<line x1="296.41" y1="308.60" x2="296.41" y2="311.20" stroke="#777" stroke-width="1"/>
<line x1="296.41" y1="319.30" x2="296.41" y2="316.70" stroke="#777" stroke-width="1"/>
<line x1="329.98" y1="308.60" x2="329.98" y2="311.20" stroke="#777" stroke-width="1"/>
<line x1="329.98" y1="319.30" x2="329.98" y2="316.70" stroke="#777" stroke-width="1"/>
<rect x="44.60" y="348.30" width="319.00" height="10.70" fill="none" stroke="#777" stroke-width="1"/>
<line x1="61.42" y1="348.30" x2="61.42" y2="350.90" stroke="#777" stroke-width="1"/>
<line x1="61.42" y1="359.00" x2="61.42" y2="356.40" stroke="#777" stroke-width="1"/>
<line x1="94.99" y1="348.30" x2="94.99" y2="350.90" stroke="#777" stroke-width="1"/>
<line x1="94.99" y1="359.00" x2="94.99" y2="356.40" stroke="#777" stroke-width="1"/>
<line x1="128.56" y1="348.30" x2="128.56" y2="350.90" stroke="#777" stroke-width="1"/>
<line x1="128.56" y1="359.00" x2="128.56" y2="356.40" stroke="#777" stroke-width="1"/>
<line x1="162.13" y1="348.30" x2="162.13" y2="350.90" stroke="#777" stroke-width="1"/>
<line x1="162.13" y1="359.00" x2="162.13" y2="356.40" stroke="#777" stroke-width="1"/>
<line x1="195.70" y1="348.30" x2="195.70" y2="350.90" stroke="#777" stroke-width="1"/>
<line x1="195.70" y1="359.00" x2="195.70" y2="356.40" stroke="#777" stroke-width="1"/>
<line x1="229.27" y1="348.30" x2="229.27" y2="350.90" stroke="#777" stroke-width="1"/>
<line x1="229.27" y1="359.00" x2="229.27" y2="356.40" stroke="#777" stroke-width="1"/>
<line x1="262.84" y1="348.30" x2="262.84" y2="350.90" stroke="#777" stroke-width="1"/>
<line x1="262.84" y1="359.00" x2="262.84" y2="356.40" stroke="#777" stroke-width="1"/>
<line x1="296.41" y1="348.30" x2="296.41" y2="350.90" stroke="#777" stroke-width="1"/>
<line x1="296.41" y1="359.00" x2="296.41" y2="356.40" stroke="#777" stroke-width="1"/>
<line x1="329.98" y1="348.30" x2="329.98" y2="350.90" stroke="#777" stroke-width="1"/>
<line x1="329.98" y1="359.00" x2="329.98" y2="356.40" stroke="#777" stroke-width="1"/>
<polygon points="181.40,269.10 181.40,272.00 181.80,278.00 183.00,281.00 186.00,281.30 200.00,281.20 211.50,281.20 212.30,277.60 214.50,277.20 215.30,275.00 216.30,275.00 217.00,277.80 218.60,277.80 219.30,274.00 220.70,270.00 220.70,269.10" fill="#000"/>
<polygon points="216.80,269.10 216.80,269.60 217.30,267.30 218.00,267.60 218.60,269.60 218.60,269.10" fill="#000"/>
<polygon points="64.10,308.00 64.10,309.00 64.40,316.00 65.80,319.80 70.00,320.40 120.00,320.40 160.00,320.20 182.00,320.00 184.50,318.50 185.60,314.00 185.90,309.00 185.90,308.00" fill="#0000ff"/>
<polygon points="208.20,308.00 208.20,309.00 209.00,312.00 214.00,312.50 216.00,316.00 220.00,318.50 226.00,318.80 234.00,318.60 238.00,317.50 240.00,313.00 244.00,312.00 245.40,309.00 245.40,308.00" fill="#0000ff"/>
<polygon points="247.10,308.00 247.10,309.00 248.00,312.00 254.00,312.50 256.00,317.00 262.00,318.50 268.00,318.00 270.70,310.00 270.70,308.00" fill="#0000ff"/>
<polygon points="271.20,308.00 271.20,309.00 271.60,316.00 273.00,320.00 280.00,320.50 292.00,320.20 295.50,318.00 296.30,309.00 296.30,308.00" fill="#0000ff"/>
<polygon points="303.00,308.00 303.00,309.00 303.50,311.50 305.00,311.50 305.50,309.00 305.50,308.00" fill="#0000ff"/>
<polygon points="308.00,308.00 308.00,309.00 308.50,310.80 309.80,310.80 310.30,309.00 310.30,308.00" fill="#0000ff"/>
<polygon points="342.20,308.00 342.20,309.00 343.00,312.50 347.00,312.80 348.20,318.00 349.50,319.80 351.50,318.00 352.50,313.50 354.50,313.00 355.30,316.50 357.20,316.50 358.20,312.00 358.80,309.00 358.80,308.00" fill="#0000ff"/>
<polygon points="46.20,347.70 46.20,349.00 47.00,354.50 48.50,355.50 50.00,353.00 50.40,349.00 50.40,347.70" fill="#ff0000"/>
<polygon points="66.00,347.70 66.00,349.00 67.20,358.00 68.50,360.30 80.00,360.40 200.00,360.40 300.00,360.30 320.00,360.00 321.80,356.00 322.80,349.00 322.80,347.70" fill="#ff0000"/>
<polygon points="341.90,347.70 341.90,349.00 342.30,357.00 344.00,360.40 351.00,360.20 352.20,356.00 353.00,354.50 357.00,354.50 358.50,352.50 359.50,356.00 360.50,351.00 361.30,349.00 361.30,347.70" fill="#ff0000"/>
<line x1="44.60" y1="308.60" x2="363.60" y2="308.60" stroke="#0000ff" stroke-width="1"/>
<line x1="44.60" y1="348.30" x2="363.60" y2="348.30" stroke="#ff0000" stroke-width="1"/>
<rect x="436.40" y="269.80" width="217.10" height="10.40" fill="none" stroke="#777" stroke-width="1"/>
<line x1="453.10" y1="269.80" x2="453.10" y2="272.40" stroke="#777" stroke-width="1"/>
<line x1="453.10" y1="280.20" x2="453.10" y2="277.60" stroke="#777" stroke-width="1"/>
<line x1="486.50" y1="269.80" x2="486.50" y2="272.40" stroke="#777" stroke-width="1"/>
<line x1="486.50" y1="280.20" x2="486.50" y2="277.60" stroke="#777" stroke-width="1"/>
<line x1="519.90" y1="269.80" x2="519.90" y2="272.40" stroke="#777" stroke-width="1"/>
<line x1="519.90" y1="280.20" x2="519.90" y2="277.60" stroke="#777" stroke-width="1"/>
<line x1="553.30" y1="269.80" x2="553.30" y2="272.40" stroke="#777" stroke-width="1"/>
<line x1="553.30" y1="280.20" x2="553.30" y2="277.60" stroke="#777" stroke-width="1"/>
<line x1="586.70" y1="269.80" x2="586.70" y2="272.40" stroke="#777" stroke-width="1"/>
<line x1="586.70" y1="280.20" x2="586.70" y2="277.60" stroke="#777" stroke-width="1"/>
<line x1="620.10" y1="269.80" x2="620.10" y2="272.40" stroke="#777" stroke-width="1"/>
<line x1="620.10" y1="280.20" x2="620.10" y2="277.60" stroke="#777" stroke-width="1"/>
<rect x="436.40" y="308.80" width="217.10" height="10.40" fill="none" stroke="#777" stroke-width="1"/>
<line x1="453.10" y1="308.80" x2="453.10" y2="311.40" stroke="#777" stroke-width="1"/>
<line x1="453.10" y1="319.20" x2="453.10" y2="316.60" stroke="#777" stroke-width="1"/>
<line x1="486.50" y1="308.80" x2="486.50" y2="311.40" stroke="#777" stroke-width="1"/>
<line x1="486.50" y1="319.20" x2="486.50" y2="316.60" stroke="#777" stroke-width="1"/>
<line x1="519.90" y1="308.80" x2="519.90" y2="311.40" stroke="#777" stroke-width="1"/>
<line x1="519.90" y1="319.20" x2="519.90" y2="316.60" stroke="#777" stroke-width="1"/>
<line x1="553.30" y1="308.80" x2="553.30" y2="311.40" stroke="#777" stroke-width="1"/>
<line x1="553.30" y1="319.20" x2="553.30" y2="316.60" stroke="#777" stroke-width="1"/>
<line x1="586.70" y1="308.80" x2="586.70" y2="311.40" stroke="#777" stroke-width="1"/>
<line x1="586.70" y1="319.20" x2="586.70" y2="316.60" stroke="#777" stroke-width="1"/>
<line x1="620.10" y1="308.80" x2="620.10" y2="311.40" stroke="#777" stroke-width="1"/>
<line x1="620.10" y1="319.20" x2="620.10" y2="316.60" stroke="#777" stroke-width="1"/>
<rect x="436.40" y="348.40" width="217.10" height="10.40" fill="none" stroke="#777" stroke-width="1"/>
<line x1="453.10" y1="348.40" x2="453.10" y2="351.00" stroke="#777" stroke-width="1"/>
<line x1="453.10" y1="358.80" x2="453.10" y2="356.20" stroke="#777" stroke-width="1"/>
<line x1="486.50" y1="348.40" x2="486.50" y2="351.00" stroke="#777" stroke-width="1"/>
<line x1="486.50" y1="358.80" x2="486.50" y2="356.20" stroke="#777" stroke-width="1"/>
<line x1="519.90" y1="348.40" x2="519.90" y2="351.00" stroke="#777" stroke-width="1"/>
<line x1="519.90" y1="358.80" x2="519.90" y2="356.20" stroke="#777" stroke-width="1"/>
<line x1="553.30" y1="348.40" x2="553.30" y2="351.00" stroke="#777" stroke-width="1"/>
<line x1="553.30" y1="358.80" x2="553.30" y2="356.20" stroke="#777" stroke-width="1"/>
<line x1="586.70" y1="348.40" x2="586.70" y2="351.00" stroke="#777" stroke-width="1"/>
<line x1="586.70" y1="358.80" x2="586.70" y2="356.20" stroke="#777" stroke-width="1"/>
<line x1="620.10" y1="348.40" x2="620.10" y2="351.00" stroke="#777" stroke-width="1"/>
<line x1="620.10" y1="358.80" x2="620.10" y2="356.20" stroke="#777" stroke-width="1"/>
<polygon points="456.90,269.20 456.90,270.00 457.50,272.50 459.00,271.50 460.00,273.00 461.90,270.00 461.90,269.20" fill="#000"/>
<polygon points="462.70,269.20 462.70,270.00 463.50,272.80 465.00,272.00 466.00,270.00 466.00,269.20" fill="#000"/>
<polygon points="467.80,269.20 467.80,270.00 468.50,272.50 470.00,276.50 471.00,275.00 472.00,270.00 472.00,269.20" fill="#000"/>
<polygon points="475.30,269.20 475.30,270.00 477.00,274.00 479.00,278.50 481.00,281.00 490.00,281.30 498.00,281.00 500.50,278.00 501.80,270.00 501.80,269.20" fill="#000"/>
<polygon points="503.40,269.20 503.40,270.00 504.50,274.00 506.50,278.00 508.50,276.00 509.70,270.00 509.70,269.20" fill="#000"/>
<polygon points="529.00,269.20 529.00,270.00 530.00,275.00 532.00,279.00 536.00,279.50 538.00,277.50 540.00,279.50 542.50,276.00 543.50,270.00 543.50,269.20" fill="#000"/>
<polygon points="548.80,269.20 548.80,270.00 550.50,274.00 553.00,276.50 556.00,280.00 557.50,281.30 559.50,280.00 562.00,275.00 564.00,277.00 566.30,270.00 566.30,269.20" fill="#000"/>
<polygon points="570.20,269.20 570.20,270.00 570.70,273.00 571.30,270.00 571.30,269.20" fill="#000"/>
<polygon points="457.40,347.80 457.40,348.80 458.00,353.00 460.30,353.50 461.00,348.80 461.00,347.80" fill="#ff0000"/>
<polygon points="463.60,347.80 463.60,348.80 464.50,352.00 466.00,350.00 466.00,347.80" fill="#ff0000"/>
<polygon points="466.00,347.80 466.00,348.80 467.00,352.00 468.50,355.00 470.30,358.50 472.00,359.50 500.00,359.50 519.80,359.20 521.00,355.00 523.00,358.50 525.00,355.50 527.00,358.80 530.70,359.30 550.00,359.50 565.00,359.20 566.50,355.00 567.20,348.80 567.20,347.80" fill="#ff0000"/>
<polygon points="568.00,347.80 568.00,348.80 569.00,352.00 571.00,354.00 572.50,358.50 575.50,358.50 576.80,348.80 576.80,347.80" fill="#ff0000"/>
<polygon points="590.80,347.80 590.80,348.80 591.50,354.00 593.00,358.50 596.00,359.50 612.00,359.30 617.00,357.00 618.80,348.80 618.80,347.80" fill="#ff0000"/>
<polygon points="646.90,347.80 646.90,348.80 647.50,352.00 650.00,354.00 652.50,357.80 653.50,358.00 653.50,347.80" fill="#ff0000"/>
<line x1="436.40" y1="348.40" x2="653.50" y2="348.40" stroke="#6a1010" stroke-width="1"/>
<line x1="45.50" y1="429.90" x2="45.50" y2="651.50" stroke="#777" stroke-width="1"/>
<line x1="45.50" y1="651.00" x2="231.30" y2="651.00" stroke="#707070" stroke-width="1"/>
<line x1="45.70" y1="443.50" x2="48.70" y2="443.50" stroke="#777" stroke-width="1"/>
<line x1="45.70" y1="512.80" x2="48.70" y2="512.80" stroke="#777" stroke-width="1"/>
<line x1="45.70" y1="581.90" x2="48.70" y2="581.90" stroke="#777" stroke-width="1"/>
<line x1="76.50" y1="651.00" x2="76.50" y2="648.00" stroke="#777" stroke-width="1"/>
<line x1="138.50" y1="651.00" x2="138.50" y2="648.00" stroke="#777" stroke-width="1"/>
<line x1="200.30" y1="651.00" x2="200.30" y2="648.00" stroke="#777" stroke-width="1"/>
<line x1="76.50" y1="579.70" x2="76.50" y2="535.60" stroke="#333" stroke-width="1" stroke-dasharray="10.8 5.6"/>
<line x1="76.50" y1="645.40" x2="76.50" y2="609.30" stroke="#333" stroke-width="1" stroke-dasharray="10.8 5.6"/>
<line x1="69.50" y1="535.60" x2="83.50" y2="535.60" stroke="#333" stroke-width="1"/>
<line x1="69.50" y1="645.40" x2="83.50" y2="645.40" stroke="#333" stroke-width="1"/>
<polygon points="62.40,579.70 90.60,579.70 90.60,591.70 83.55,593.40 90.60,595.30 90.60,609.30 62.40,609.30 62.40,595.30 69.45,593.40 62.40,591.70" fill="#dcdcdc" stroke="#111" stroke-width="1" stroke-linejoin="miter"/>
<line x1="69.45" y1="593.40" x2="83.55" y2="593.40" stroke="#111" stroke-width="1.2"/>
<line x1="138.50" y1="523.30" x2="138.50" y2="476.20" stroke="#333" stroke-width="1" stroke-dasharray="10.8 5.6"/>
<line x1="138.50" y1="591.20" x2="138.50" y2="555.50" stroke="#333" stroke-width="1" stroke-dasharray="10.8 5.6"/>
<line x1="131.50" y1="476.20" x2="145.50" y2="476.20" stroke="#333" stroke-width="1"/>
<line x1="131.50" y1="591.20" x2="145.50" y2="591.20" stroke="#333" stroke-width="1"/>
<polygon points="124.40,523.30 152.60,523.30 152.60,538.80 145.55,540.40 152.60,542.30 152.60,555.50 124.40,555.50 124.40,542.30 131.45,540.40 124.40,538.80" fill="#8080ff" stroke="#111" stroke-width="1" stroke-linejoin="miter"/>
<line x1="131.45" y1="540.40" x2="145.55" y2="540.40" stroke="#111" stroke-width="1.2"/>
<line x1="200.30" y1="528.20" x2="200.30" y2="480.20" stroke="#333" stroke-width="1" stroke-dasharray="10.8 5.6"/>
<line x1="200.30" y1="595.30" x2="200.30" y2="559.50" stroke="#333" stroke-width="1" stroke-dasharray="10.8 5.6"/>
<line x1="193.30" y1="480.20" x2="207.30" y2="480.20" stroke="#333" stroke-width="1"/>
<line x1="193.30" y1="595.30" x2="207.30" y2="595.30" stroke="#333" stroke-width="1"/>
<polygon points="186.20,528.20 214.40,528.20 214.40,543.20 207.35,544.70 214.40,546.30 214.40,559.50 186.20,559.50 186.20,546.30 193.25,544.70 186.20,543.20" fill="#ff8080" stroke="#111" stroke-width="1" stroke-linejoin="miter"/>
<line x1="193.25" y1="544.70" x2="207.35" y2="544.70" stroke="#111" stroke-width="1.2"/>
<line x1="69.90" y1="435.40" x2="196.90" y2="435.40" stroke="#333" stroke-width="1.3"/>
<line x1="69.90" y1="457.20" x2="139.30" y2="457.20" stroke="#333" stroke-width="1.3"/>
<line x1="293.00" y1="462.40" x2="293.00" y2="651.50" stroke="#707070" stroke-width="1"/>
<line x1="293.00" y1="651.00" x2="685.00" y2="651.00" stroke="#707070" stroke-width="1"/>
<line x1="293.10" y1="473.40" x2="296.10" y2="473.40" stroke="#777" stroke-width="1"/>
<line x1="293.10" y1="529.00" x2="296.10" y2="529.00" stroke="#777" stroke-width="1"/>
<line x1="293.10" y1="584.30" x2="296.10" y2="584.30" stroke="#777" stroke-width="1"/>
<line x1="293.10" y1="639.60" x2="296.10" y2="639.60" stroke="#777" stroke-width="1"/>
<line x1="342.10" y1="650.80" x2="342.10" y2="647.80" stroke="#777" stroke-width="1"/>
<line x1="390.80" y1="650.80" x2="390.80" y2="647.80" stroke="#777" stroke-width="1"/>
<line x1="439.70" y1="650.80" x2="439.70" y2="647.80" stroke="#777" stroke-width="1"/>
<line x1="538.10" y1="650.80" x2="538.10" y2="647.80" stroke="#777" stroke-width="1"/>
<line x1="586.70" y1="650.80" x2="586.70" y2="647.80" stroke="#777" stroke-width="1"/>
<line x1="635.80" y1="650.80" x2="635.80" y2="647.80" stroke="#777" stroke-width="1"/>
<line x1="342.00" y1="531.80" x2="342.00" y2="502.00" stroke="#333" stroke-width="1" stroke-dasharray="10.8 5.6"/>
<line x1="342.00" y1="581.20" x2="342.00" y2="551.60" stroke="#333" stroke-width="1" stroke-dasharray="10.8 5.6"/>
<line x1="333.25" y1="502.00" x2="350.75" y2="502.00" stroke="#333" stroke-width="1"/>
<line x1="333.25" y1="581.20" x2="350.75" y2="581.20" stroke="#333" stroke-width="1"/>
<polygon points="324.40,531.80 359.60,531.80 359.60,540.80 350.80,542.10 359.60,543.40 359.60,551.60 324.40,551.60 324.40,543.40 333.20,542.10 324.40,540.80" fill="#dcdcdc" stroke="#111" stroke-width="1" stroke-linejoin="miter"/>
<line x1="333.20" y1="542.10" x2="350.80" y2="542.10" stroke="#111" stroke-width="1.2"/>
<line x1="390.90" y1="517.40" x2="390.90" y2="481.90" stroke="#333" stroke-width="1" stroke-dasharray="10.8 5.6"/>
<line x1="390.90" y1="574.00" x2="390.90" y2="540.50" stroke="#333" stroke-width="1" stroke-dasharray="10.8 5.6"/>
<line x1="382.15" y1="481.90" x2="399.65" y2="481.90" stroke="#333" stroke-width="1"/>
<line x1="382.15" y1="574.00" x2="399.65" y2="574.00" stroke="#333" stroke-width="1"/>
<polygon points="373.40,517.40 408.40,517.40 408.40,527.90 399.65,529.20 408.40,530.40 408.40,540.50 373.40,540.50 373.40,530.40 382.15,529.20 373.40,527.90" fill="#8080ff" stroke="#111" stroke-width="1" stroke-linejoin="miter"/>
<line x1="382.15" y1="529.20" x2="399.65" y2="529.20" stroke="#111" stroke-width="1.2"/>
<line x1="439.80" y1="508.60" x2="439.80" y2="473.60" stroke="#333" stroke-width="1" stroke-dasharray="10.8 5.6"/>
<line x1="439.80" y1="565.80" x2="439.80" y2="532.90" stroke="#333" stroke-width="1" stroke-dasharray="10.8 5.6"/>
<line x1="431.05" y1="473.60" x2="448.55" y2="473.60" stroke="#333" stroke-width="1"/>
<line x1="431.05" y1="565.80" x2="448.55" y2="565.80" stroke="#333" stroke-width="1"/>
<polygon points="422.40,508.60 457.20,508.60 457.20,519.40 448.50,520.70 457.20,522.00 457.20,532.90 422.40,532.90 422.40,522.00 431.10,520.70 422.40,519.40" fill="#ff8080" stroke="#111" stroke-width="1" stroke-linejoin="miter"/>
<line x1="431.10" y1="520.70" x2="448.50" y2="520.70" stroke="#111" stroke-width="1.2"/>
<line x1="538.10" y1="531.80" x2="538.10" y2="502.30" stroke="#333" stroke-width="1" stroke-dasharray="10.8 5.6"/>
<line x1="538.10" y1="581.30" x2="538.10" y2="551.80" stroke="#333" stroke-width="1" stroke-dasharray="10.8 5.6"/>
<line x1="529.35" y1="502.30" x2="546.85" y2="502.30" stroke="#333" stroke-width="1"/>
<line x1="529.35" y1="581.30" x2="546.85" y2="581.30" stroke="#333" stroke-width="1"/>
<polygon points="520.60,531.80 555.60,531.80 555.60,540.60 546.85,541.90 555.60,543.20 555.60,551.80 520.60,551.80 520.60,543.20 529.35,541.90 520.60,540.60" fill="#dcdcdc" stroke="#111" stroke-width="1" stroke-linejoin="miter"/>
<line x1="529.35" y1="541.90" x2="546.85" y2="541.90" stroke="#111" stroke-width="1.2"/>
<line x1="586.80" y1="523.90" x2="586.80" y2="489.00" stroke="#333" stroke-width="1" stroke-dasharray="10.8 5.6"/>
<line x1="586.80" y1="581.10" x2="586.80" y2="547.40" stroke="#333" stroke-width="1" stroke-dasharray="10.8 5.6"/>
<line x1="578.05" y1="489.00" x2="595.55" y2="489.00" stroke="#333" stroke-width="1"/>
<line x1="578.05" y1="581.10" x2="595.55" y2="581.10" stroke="#333" stroke-width="1"/>
<polygon points="569.60,523.90 604.00,523.90 604.00,534.90 595.40,536.20 604.00,537.50 604.00,547.40 569.60,547.40 569.60,537.50 578.20,536.20 569.60,534.90" fill="#8080ff" stroke="#111" stroke-width="1" stroke-linejoin="miter"/>
<line x1="578.20" y1="536.20" x2="595.40" y2="536.20" stroke="#111" stroke-width="1.2"/>
<line x1="636.00" y1="512.90" x2="636.00" y2="478.40" stroke="#333" stroke-width="1" stroke-dasharray="10.8 5.6"/>
<line x1="636.00" y1="570.40" x2="636.00" y2="537.30" stroke="#333" stroke-width="1" stroke-dasharray="10.8 5.6"/>
<line x1="627.25" y1="478.40" x2="644.75" y2="478.40" stroke="#333" stroke-width="1"/>
<line x1="627.25" y1="570.40" x2="644.75" y2="570.40" stroke="#333" stroke-width="1"/>
<polygon points="618.70,512.90 653.30,512.90 653.30,523.90 644.65,525.20 653.30,526.50 653.30,537.30 618.70,537.30 618.70,526.50 627.35,525.20 618.70,523.90" fill="#ff8080" stroke="#111" stroke-width="1" stroke-linejoin="miter"/>
<line x1="627.35" y1="525.20" x2="644.65" y2="525.20" stroke="#111" stroke-width="1.2"/>
<polyline points="337.70,474.00 337.70,471.60 385.20,471.60 385.20,474.00" fill="none" stroke="#333" stroke-width="1.3"/>
<polyline points="341.80,452.80 341.80,450.40 436.40,450.40 436.40,452.80" fill="none" stroke="#333" stroke-width="1.3"/>
<polyline points="386.00,438.70 386.00,436.30 575.10,436.30 575.10,438.70" fill="none" stroke="#333" stroke-width="1.3"/>
<polyline points="436.40,421.90 436.40,419.50 582.90,419.50 582.90,421.90" fill="none" stroke="#333" stroke-width="1.3"/>
<polyline points="582.90,438.90 582.90,436.50 635.60,436.50 635.60,438.90" fill="none" stroke="#333" stroke-width="1.3"/>
<polyline points="530.20,457.80 530.20,455.40 635.60,455.40 635.60,457.80" fill="none" stroke="#333" stroke-width="1.3"/>
<polyline points="530.20,474.80 530.20,472.40 583.40,472.40 583.40,474.80" fill="none" stroke="#333" stroke-width="1.3"/>
<polyline points="436.30,592.40 436.30,594.80 541.60,594.80 541.60,592.40" fill="none" stroke="#333" stroke-width="1.3"/>
<polyline points="389.50,605.30 389.50,607.70 546.80,607.70 546.80,605.30" fill="none" stroke="#333" stroke-width="1.3"/>
<polyline points="342.00,621.90 342.00,624.30 583.40,624.30 583.40,621.90" fill="none" stroke="#333" stroke-width="1.3"/>
<polyline points="342.00,636.50 342.00,638.90 635.70,638.90 635.70,636.50" fill="none" stroke="#333" stroke-width="1.3"/>
<text x="0.0" y="12.9" font-size="18" font-weight="bold" fill="#000" stroke="#000" stroke-width="0.25" textLength="10.2" lengthAdjust="spacingAndGlyphs">a</text>
<text x="390.3" y="13.2" font-size="18" font-weight="bold" fill="#000" stroke="#000" stroke-width="0.25">b</text>
<text x="0.0" y="413.1" font-size="18" font-weight="bold" fill="#000" stroke="#000" stroke-width="0.25" textLength="10.2" lengthAdjust="spacingAndGlyphs">c</text>
<text x="247.4" y="413.4" font-size="18" font-weight="bold" fill="#000" stroke="#000" stroke-width="0.25">d</text>
<text x="85.10" y="17.70" font-size="12" fill="#222" textLength="52.70" lengthAdjust="spacingAndGlyphs">Encoding</text>
<text x="154.00" y="17.90" font-size="12" fill="#222" textLength="47.90" lengthAdjust="spacingAndGlyphs">First cue</text>
<text x="230.20" y="17.90" font-size="12" fill="#222" textLength="100.40" lengthAdjust="spacingAndGlyphs">First maintenance</text>
<text x="435.40" y="18.10" font-size="12" fill="#222" textLength="67.30" lengthAdjust="spacingAndGlyphs">Second cue</text>
<text x="509.20" y="18.10" font-size="12" fill="#222" textLength="120.30" lengthAdjust="spacingAndGlyphs">Second maintenance</text>
<text x="22.00" y="50.30" font-size="10.6" fill="#333" textLength="16.20" lengthAdjust="spacingAndGlyphs">0.4</text>
<text x="23.10" y="116.20" font-size="10.3" fill="#333" textLength="15.10" lengthAdjust="spacingAndGlyphs">0.2</text>
<text x="31.60" y="181.70" font-size="10.3" fill="#333" textLength="6.60" lengthAdjust="spacingAndGlyphs">0</text>
<text x="411.00" y="50.80" font-size="12.2" fill="#333" textLength="19.00" lengthAdjust="spacingAndGlyphs">0.4</text>
<text x="412.00" y="116.80" font-size="11.6" fill="#333" textLength="18.00" lengthAdjust="spacingAndGlyphs">0.2</text>
<text x="422.80" y="182.10" font-size="11.8" fill="#333" textLength="7.20" lengthAdjust="spacingAndGlyphs">0</text>
<text transform="translate(9.40,186.00) rotate(-90)" x="0" y="0" font-size="12" fill="#222" textLength="115.40" lengthAdjust="spacingAndGlyphs">Firing rate (<tspan font-style="italic">z</tspan> scored)</text>
<text transform="translate(401.60,185.80) rotate(-90)" x="0" y="0" font-size="12" fill="#222" textLength="115.80" lengthAdjust="spacingAndGlyphs">Firing rate (<tspan font-style="italic">z</tspan> scored)</text>
<text x="54.42" y="242.00" font-size="10.8" fill="#333" textLength="12.80" lengthAdjust="spacingAndGlyphs">−4</text>
<text x="87.99" y="242.00" font-size="10.8" fill="#333" textLength="12.80" lengthAdjust="spacingAndGlyphs">−3</text>
<text x="121.56" y="242.00" font-size="10.8" fill="#333" textLength="12.80" lengthAdjust="spacingAndGlyphs">−2</text>
<text x="155.13" y="242.00" font-size="10.8" fill="#333" textLength="12.80" lengthAdjust="spacingAndGlyphs">−1</text>
<text x="192.00" y="242.00" font-size="10.8" fill="#333" textLength="7.40" lengthAdjust="spacingAndGlyphs">0</text>
<text x="226.02" y="242.00" font-size="10.8" fill="#333" textLength="6.50" lengthAdjust="spacingAndGlyphs">1</text>
<text x="259.59" y="242.00" font-size="10.8" fill="#333" textLength="6.50" lengthAdjust="spacingAndGlyphs">2</text>
<text x="293.16" y="242.00" font-size="10.8" fill="#333" textLength="6.50" lengthAdjust="spacingAndGlyphs">3</text>
<text x="326.73" y="242.00" font-size="10.8" fill="#333" textLength="6.50" lengthAdjust="spacingAndGlyphs">4</text>
<text x="360.30" y="242.00" font-size="10.8" fill="#333" textLength="6.50" lengthAdjust="spacingAndGlyphs">5</text>
<text x="445.20" y="242.20" font-size="11.3" fill="#333" textLength="12.80" lengthAdjust="spacingAndGlyphs">−1</text>
<text x="481.80" y="242.20" font-size="11.3" fill="#333" textLength="7.40" lengthAdjust="spacingAndGlyphs">0</text>
<text x="515.55" y="242.20" font-size="11.3" fill="#333" textLength="6.50" lengthAdjust="spacingAndGlyphs">1</text>
<text x="548.85" y="242.20" font-size="11.3" fill="#333" textLength="6.50" lengthAdjust="spacingAndGlyphs">2</text>
<text x="582.15" y="242.20" font-size="11.3" fill="#333" textLength="6.50" lengthAdjust="spacingAndGlyphs">3</text>
<text x="615.45" y="242.20" font-size="11.3" fill="#333" textLength="6.50" lengthAdjust="spacingAndGlyphs">4</text>
<text x="648.75" y="242.20" font-size="11.3" fill="#333" textLength="6.50" lengthAdjust="spacingAndGlyphs">5</text>
<text x="111.10" y="259.90" font-size="12" fill="#222" textLength="186.00" lengthAdjust="spacingAndGlyphs">Time from maintenance onset (s)</text>
<text x="451.30" y="259.80" font-size="12" fill="#222" textLength="185.60" lengthAdjust="spacingAndGlyphs">Time from maintenance onset (s)</text>
<text x="15.70" y="273.60" font-size="11" fill="#333" textLength="22.30" lengthAdjust="spacingAndGlyphs">0.05</text>
<text x="31.40" y="284.30" font-size="11" fill="#333" textLength="6.60" lengthAdjust="spacingAndGlyphs">0</text>
<text x="15.70" y="312.50" font-size="11" fill="#333" textLength="22.30" lengthAdjust="spacingAndGlyphs">0.05</text>
<text x="31.40" y="323.20" font-size="11" fill="#333" textLength="6.60" lengthAdjust="spacingAndGlyphs">0</text>
<text x="15.70" y="352.20" font-size="11" fill="#333" textLength="22.30" lengthAdjust="spacingAndGlyphs">0.05</text>
<text x="31.40" y="362.90" font-size="11" fill="#333" textLength="6.60" lengthAdjust="spacingAndGlyphs">0</text>
<text x="408.10" y="273.70" font-size="11" fill="#333" textLength="22.30" lengthAdjust="spacingAndGlyphs">0.05</text>
<text x="423.80" y="284.10" font-size="11" fill="#333" textLength="6.60" lengthAdjust="spacingAndGlyphs">0</text>
<text x="408.10" y="312.70" font-size="11" fill="#333" textLength="22.30" lengthAdjust="spacingAndGlyphs">0.05</text>
<text x="423.80" y="323.10" font-size="11" fill="#333" textLength="6.60" lengthAdjust="spacingAndGlyphs">0</text>
<text x="408.10" y="352.30" font-size="11" fill="#333" textLength="22.30" lengthAdjust="spacingAndGlyphs">0.05</text>
<text x="423.80" y="362.70" font-size="11" fill="#333" textLength="6.60" lengthAdjust="spacingAndGlyphs">0</text>
<text x="74.50" y="295.70" font-size="12" fill="#222" textLength="259.10" lengthAdjust="spacingAndGlyphs">Cued versus uncued <tspan font-style="italic">P</tspan> values (FDR corrected)</text>
<text x="74.20" y="334.60" font-size="12" fill="#222" textLength="259.70" lengthAdjust="spacingAndGlyphs">Uncued versus other <tspan font-style="italic">P</tspan> values (FDR corrected)</text>
<text x="80.90" y="374.20" font-size="12" fill="#222" textLength="246.20" lengthAdjust="spacingAndGlyphs">Cued versus other <tspan font-style="italic">P</tspan> values (FDR corrected)</text>
<text x="415.70" y="295.10" font-size="12" fill="#222" textLength="258.80" lengthAdjust="spacingAndGlyphs">Cued versus uncued <tspan font-style="italic">P</tspan> values (FDR corrected)</text>
<text x="415.10" y="334.80" font-size="12" fill="#222" textLength="260.00" lengthAdjust="spacingAndGlyphs">Uncued versus other <tspan font-style="italic">P</tspan> values (FDR corrected)</text>
<text x="422.00" y="374.40" font-size="12" fill="#222" textLength="246.10" lengthAdjust="spacingAndGlyphs">Cued versus other <tspan font-style="italic">P</tspan> values (FDR corrected)</text>
<text x="522.40" y="44.30" font-size="12" fill="#222" textLength="146.10" lengthAdjust="spacingAndGlyphs">Pref. cued (mean ± s.e.m.)</text>
<text x="522.40" y="64.50" font-size="12" fill="#222" textLength="160.50" lengthAdjust="spacingAndGlyphs">Pref. uncued (mean ± s.e.m.)</text>
<text x="522.40" y="84.30" font-size="12" fill="#222" textLength="121.30" lengthAdjust="spacingAndGlyphs">Other (mean ± s.e.m.)</text>
<text x="107.70" y="430.80" font-size="12" fill="#222" textLength="51.90" lengthAdjust="spacingAndGlyphs"><tspan font-style="italic">P</tspan> &lt; 0.001</text>
<text x="78.80" y="452.40" font-size="12" fill="#222" textLength="52.40" lengthAdjust="spacingAndGlyphs"><tspan font-style="italic">P</tspan> &lt; 0.001</text>
<text x="26.60" y="447.40" font-size="11" fill="#333" textLength="12.60" lengthAdjust="spacingAndGlyphs">1.0</text>
<text x="26.00" y="516.70" font-size="11" fill="#333" textLength="14.50" lengthAdjust="spacingAndGlyphs">0.5</text>
<text x="33.90" y="585.90" font-size="11" fill="#333" textLength="6.40" lengthAdjust="spacingAndGlyphs">0</text>
<text x="18.80" y="654.90" font-size="11" fill="#333" textLength="21.00" lengthAdjust="spacingAndGlyphs">−0.5</text>
<text transform="translate(13.80,606.00) rotate(-90)" x="0" y="0" font-size="12" fill="#222" textLength="132.10" lengthAdjust="spacingAndGlyphs">Estimated FR (<tspan font-style="italic">z</tspan> scored)</text>
<text x="60.80" y="667.60" font-size="12" fill="#222" textLength="31.50" lengthAdjust="spacingAndGlyphs">Other</text>
<text x="116.30" y="667.60" font-size="12" fill="#222" textLength="44.20" lengthAdjust="spacingAndGlyphs">Uncued</text>
<text x="185.00" y="667.60" font-size="12" fill="#222" textLength="30.50" lengthAdjust="spacingAndGlyphs">Cued</text>
<text x="272.00" y="477.10" font-size="11" fill="#333" textLength="16.00" lengthAdjust="spacingAndGlyphs">0.5</text>
<text x="281.40" y="533.30" font-size="11" fill="#333" textLength="6.60" lengthAdjust="spacingAndGlyphs">0</text>
<text x="267.00" y="588.30" font-size="11" fill="#333" textLength="21.00" lengthAdjust="spacingAndGlyphs">−0.5</text>
<text x="268.50" y="644.00" font-size="11" fill="#333" textLength="19.50" lengthAdjust="spacingAndGlyphs">−1.0</text>
<text transform="translate(258.00,623.50) rotate(-90)" x="0" y="0" font-size="12" fill="#222" textLength="133.50" lengthAdjust="spacingAndGlyphs">Estimated FR (<tspan font-style="italic">z</tspan> scored)</text>
<text x="326.10" y="667.60" font-size="12" fill="#222" textLength="31.70" lengthAdjust="spacingAndGlyphs">Other</text>
<text x="368.40" y="667.60" font-size="12" fill="#222" textLength="43.00" lengthAdjust="spacingAndGlyphs">Uncued</text>
<text x="424.20" y="667.60" font-size="12" fill="#222" textLength="30.30" lengthAdjust="spacingAndGlyphs">Cued</text>
<text x="521.80" y="667.60" font-size="12" fill="#222" textLength="31.50" lengthAdjust="spacingAndGlyphs">Other</text>
<text x="565.40" y="667.60" font-size="12" fill="#222" textLength="44.00" lengthAdjust="spacingAndGlyphs">Uncued</text>
<text x="620.40" y="667.60" font-size="12" fill="#222" textLength="29.70" lengthAdjust="spacingAndGlyphs">Cued</text>
<text x="334.60" y="467.80" font-size="12" fill="#222" textLength="53.70" lengthAdjust="spacingAndGlyphs"><tspan font-style="italic">P</tspan> = 0.002</text>
<text x="363.40" y="449.10" font-size="12" fill="#222" textLength="52.00" lengthAdjust="spacingAndGlyphs"><tspan font-style="italic">P</tspan> &lt; 0.001</text>
<text x="453.50" y="433.60" font-size="12" fill="#222" textLength="53.80" lengthAdjust="spacingAndGlyphs"><tspan font-style="italic">P</tspan> = 0.030</text>
<text x="483.20" y="415.20" font-size="12" fill="#222" textLength="53.30" lengthAdjust="spacingAndGlyphs"><tspan font-style="italic">P</tspan> = 0.050</text>
<text x="583.70" y="431.90" font-size="12" fill="#222" textLength="50.80" lengthAdjust="spacingAndGlyphs"><tspan font-style="italic">P</tspan> = 0.019</text>
<text x="556.70" y="450.80" font-size="12" fill="#222" textLength="52.10" lengthAdjust="spacingAndGlyphs"><tspan font-style="italic">P</tspan> &lt; 0.001</text>
<text x="530.50" y="468.90" font-size="12" fill="#222" textLength="52.70" lengthAdjust="spacingAndGlyphs"><tspan font-style="italic">P</tspan> &lt; 0.001</text>
<text x="462.90" y="592.60" font-size="12" fill="#222" textLength="51.50" lengthAdjust="spacingAndGlyphs"><tspan font-style="italic">P</tspan> &lt; 0.001</text>
<text x="442.10" y="605.40" font-size="12" fill="#222" textLength="51.50" lengthAdjust="spacingAndGlyphs"><tspan font-style="italic">P</tspan> &lt; 0.001</text>
<text x="435.90" y="621.80" font-size="12" fill="#222" textLength="53.60" lengthAdjust="spacingAndGlyphs"><tspan font-style="italic">P</tspan> = 0.003</text>
<text x="461.90" y="636.50" font-size="12" fill="#222" textLength="54.20" lengthAdjust="spacingAndGlyphs"><tspan font-style="italic">P</tspan> = 0.003</text>
</svg>
</body></html>
